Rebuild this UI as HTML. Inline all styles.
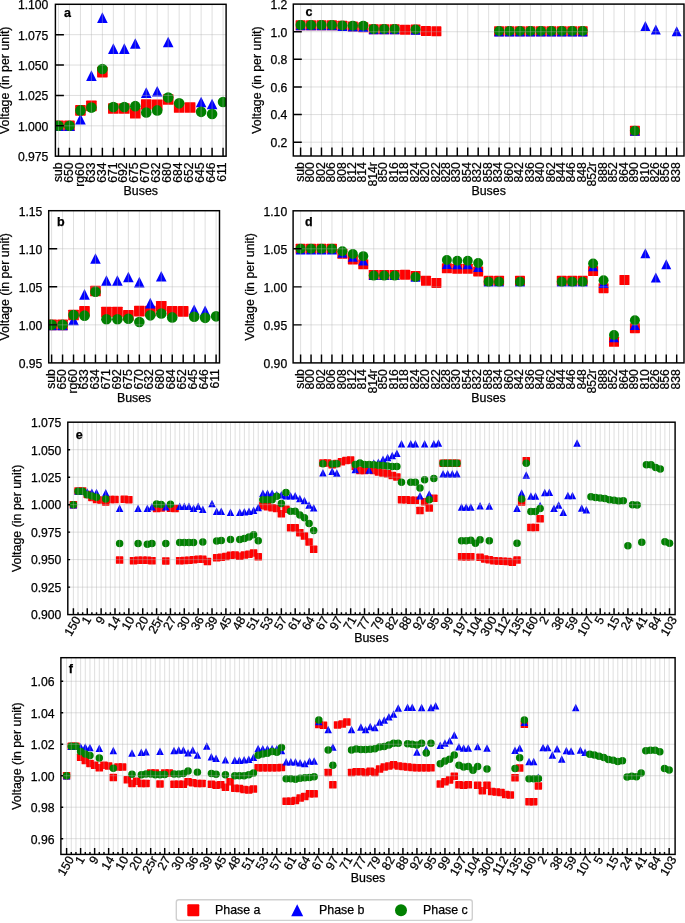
<!DOCTYPE html>
<html><head><meta charset="utf-8"><title>Voltage profiles</title>
<style>html,body{margin:0;padding:0;background:#fff;}svg{display:block;} text{stroke:#000;stroke-width:0.25px;}</style></head>
<body>
<svg width="685" height="923" viewBox="0 0 685 923" font-family="Liberation Sans, Arial, sans-serif" fill="#000">
<rect width="685" height="923" fill="#fff"/>
<clipPath id="clipa"><rect x="55.4" y="4.3" width="170.70" height="151.90"/></clipPath>
<g clip-path="url(#clipa)"><rect x="53.20" y="120.52" width="10.60" height="10.60" rx="0.6" fill="#ff0000"/><rect x="64.17" y="120.52" width="10.60" height="10.60" rx="0.6" fill="#ff0000"/><rect x="75.14" y="105.09" width="10.60" height="10.60" rx="0.6" fill="#ff0000"/><rect x="86.11" y="100.59" width="10.60" height="10.60" rx="0.6" fill="#ff0000"/><rect x="97.08" y="66.81" width="10.60" height="10.60" rx="0.6" fill="#ff0000"/><rect x="108.05" y="103.14" width="10.60" height="10.60" rx="0.6" fill="#ff0000"/><rect x="119.02" y="103.14" width="10.60" height="10.60" rx="0.6" fill="#ff0000"/><rect x="129.99" y="107.88" width="10.60" height="10.60" rx="0.6" fill="#ff0000"/><rect x="140.96" y="99.25" width="10.60" height="10.60" rx="0.6" fill="#ff0000"/><rect x="151.93" y="99.62" width="10.60" height="10.60" rx="0.6" fill="#ff0000"/><rect x="162.90" y="94.15" width="10.60" height="10.60" rx="0.6" fill="#ff0000"/><rect x="173.87" y="102.17" width="10.60" height="10.60" rx="0.6" fill="#ff0000"/><rect x="184.84" y="102.17" width="10.60" height="10.60" rx="0.6" fill="#ff0000"/><path d="M58.50 120.52L63.80 131.12L53.20 131.12Z" fill="#0000ff"/><path d="M69.47 120.52L74.77 131.12L64.17 131.12Z" fill="#0000ff"/><path d="M80.44 113.84L85.74 124.44L75.14 124.44Z" fill="#0000ff"/><path d="M91.41 70.33L96.71 80.93L86.11 80.93Z" fill="#0000ff"/><path d="M102.38 12.37L107.68 22.97L97.08 22.97Z" fill="#0000ff"/><path d="M113.35 43.35L118.65 53.95L108.05 53.95Z" fill="#0000ff"/><path d="M124.32 43.35L129.62 53.95L119.02 53.95Z" fill="#0000ff"/><path d="M135.29 38.25L140.59 48.85L129.99 48.85Z" fill="#0000ff"/><path d="M146.26 87.35L151.56 97.95L140.96 97.95Z" fill="#0000ff"/><path d="M157.23 86.01L162.53 96.61L151.93 96.61Z" fill="#0000ff"/><path d="M168.20 36.67L173.50 47.27L162.90 47.27Z" fill="#0000ff"/><path d="M201.11 96.70L206.41 107.30L195.81 107.30Z" fill="#0000ff"/><path d="M212.08 98.65L217.38 109.25L206.78 109.25Z" fill="#0000ff"/><circle cx="58.50" cy="125.82" r="5.30" fill="#008000"/><circle cx="69.47" cy="125.82" r="5.30" fill="#008000"/><circle cx="80.44" cy="110.39" r="5.30" fill="#008000"/><circle cx="91.41" cy="107.59" r="5.30" fill="#008000"/><circle cx="102.38" cy="69.07" r="5.30" fill="#008000"/><circle cx="113.35" cy="106.98" r="5.30" fill="#008000"/><circle cx="124.32" cy="106.98" r="5.30" fill="#008000"/><circle cx="135.29" cy="106.13" r="5.30" fill="#008000"/><circle cx="146.26" cy="112.57" r="5.30" fill="#008000"/><circle cx="157.23" cy="110.39" r="5.30" fill="#008000"/><circle cx="168.20" cy="97.51" r="5.30" fill="#008000"/><circle cx="179.17" cy="103.34" r="5.30" fill="#008000"/><circle cx="201.11" cy="111.85" r="5.30" fill="#008000"/><circle cx="212.08" cy="114.03" r="5.30" fill="#008000"/><circle cx="223.05" cy="102.00" r="5.30" fill="#008000"/></g>
<path d="M58.50 4.3V156.2M69.47 4.3V156.2M80.44 4.3V156.2M91.41 4.3V156.2M102.38 4.3V156.2M113.35 4.3V156.2M124.32 4.3V156.2M135.29 4.3V156.2M146.26 4.3V156.2M157.23 4.3V156.2M168.20 4.3V156.2M179.17 4.3V156.2M190.14 4.3V156.2M201.11 4.3V156.2M212.08 4.3V156.2M223.05 4.3V156.2M55.4 156.20H226.1M55.4 125.82H226.1M55.4 95.44H226.1M55.4 65.06H226.1M55.4 34.68H226.1M55.4 4.30H226.1" stroke="#b0b0b0" stroke-opacity="0.4" stroke-width="1.0" fill="none"/>
<path d="M55.4 125.82h8.5M55.4 95.44h8.5M55.4 65.06h8.5M55.4 34.68h8.5M58.50 156.2v-8.5M69.47 156.2v-8.5M80.44 156.2v-8.5M91.41 156.2v-8.5M102.38 156.2v-8.5M113.35 156.2v-8.5M124.32 156.2v-8.5M135.29 156.2v-8.5M146.26 156.2v-8.5M157.23 156.2v-8.5M168.20 156.2v-8.5M179.17 156.2v-8.5M190.14 156.2v-8.5M201.11 156.2v-8.5M212.08 156.2v-8.5M223.05 156.2v-8.5" stroke="#000" stroke-width="1.45" fill="none"/>
<rect x="55.4" y="4.3" width="170.70" height="151.90" fill="none" stroke="#000" stroke-width="1.45"/>
<text x="48.40" y="161.03" text-anchor="end" font-size="12.2">0.975</text>
<text x="48.40" y="130.65" text-anchor="end" font-size="12.2">1.000</text>
<text x="48.40" y="100.27" text-anchor="end" font-size="12.2">1.025</text>
<text x="48.40" y="69.89" text-anchor="end" font-size="12.2">1.050</text>
<text x="48.40" y="39.51" text-anchor="end" font-size="12.2">1.075</text>
<text x="48.40" y="9.13" text-anchor="end" font-size="12.2">1.100</text>
<text transform="translate(61.67,162.40) rotate(-90)" text-anchor="end" font-size="12.2">sub</text>
<text transform="translate(72.64,162.40) rotate(-90)" text-anchor="end" font-size="12.2">650</text>
<text transform="translate(83.61,162.40) rotate(-90)" text-anchor="end" font-size="12.2">rg60</text>
<text transform="translate(94.58,162.40) rotate(-90)" text-anchor="end" font-size="12.2">633</text>
<text transform="translate(105.55,162.40) rotate(-90)" text-anchor="end" font-size="12.2">634</text>
<text transform="translate(116.52,162.40) rotate(-90)" text-anchor="end" font-size="12.2">671</text>
<text transform="translate(127.49,162.40) rotate(-90)" text-anchor="end" font-size="12.2">692</text>
<text transform="translate(138.46,162.40) rotate(-90)" text-anchor="end" font-size="12.2">675</text>
<text transform="translate(149.43,162.40) rotate(-90)" text-anchor="end" font-size="12.2">670</text>
<text transform="translate(160.40,162.40) rotate(-90)" text-anchor="end" font-size="12.2">632</text>
<text transform="translate(171.37,162.40) rotate(-90)" text-anchor="end" font-size="12.2">680</text>
<text transform="translate(182.34,162.40) rotate(-90)" text-anchor="end" font-size="12.2">684</text>
<text transform="translate(193.31,162.40) rotate(-90)" text-anchor="end" font-size="12.2">652</text>
<text transform="translate(204.28,162.40) rotate(-90)" text-anchor="end" font-size="12.2">645</text>
<text transform="translate(215.25,162.40) rotate(-90)" text-anchor="end" font-size="12.2">646</text>
<text transform="translate(226.22,162.40) rotate(-90)" text-anchor="end" font-size="12.2">611</text>
<text x="140.75" y="195.20" text-anchor="middle" font-size="12.4">Buses</text>
<text transform="translate(9.00,80.25) rotate(-90)" text-anchor="middle" font-size="12.4">Voltage (in per unit)</text>
<text x="63.9" y="16.5" font-weight="bold" font-size="12.5">a</text>
<clipPath id="clipb"><rect x="48.7" y="210.7" width="170.80" height="152.20"/></clipPath>
<g clip-path="url(#clipb)"><rect x="46.30" y="319.55" width="10.60" height="10.60" rx="0.6" fill="#ff0000"/><rect x="57.27" y="319.55" width="10.60" height="10.60" rx="0.6" fill="#ff0000"/><rect x="68.23" y="309.73" width="10.60" height="10.60" rx="0.6" fill="#ff0000"/><rect x="79.20" y="306.08" width="10.60" height="10.60" rx="0.6" fill="#ff0000"/><rect x="90.17" y="285.76" width="10.60" height="10.60" rx="0.6" fill="#ff0000"/><rect x="101.14" y="306.77" width="10.60" height="10.60" rx="0.6" fill="#ff0000"/><rect x="112.10" y="306.77" width="10.60" height="10.60" rx="0.6" fill="#ff0000"/><rect x="123.07" y="310.04" width="10.60" height="10.60" rx="0.6" fill="#ff0000"/><rect x="134.04" y="305.78" width="10.60" height="10.60" rx="0.6" fill="#ff0000"/><rect x="145.00" y="305.85" width="10.60" height="10.60" rx="0.6" fill="#ff0000"/><rect x="155.97" y="300.91" width="10.60" height="10.60" rx="0.6" fill="#ff0000"/><rect x="166.94" y="306.08" width="10.60" height="10.60" rx="0.6" fill="#ff0000"/><rect x="177.90" y="306.08" width="10.60" height="10.60" rx="0.6" fill="#ff0000"/><path d="M51.60 319.55L56.90 330.15L46.30 330.15Z" fill="#0000ff"/><path d="M62.57 319.55L67.87 330.15L57.27 330.15Z" fill="#0000ff"/><path d="M73.53 314.53L78.83 325.13L68.23 325.13Z" fill="#0000ff"/><path d="M84.50 289.11L89.80 299.71L79.20 299.71Z" fill="#0000ff"/><path d="M95.47 253.27L100.77 263.87L90.17 263.87Z" fill="#0000ff"/><path d="M106.44 275.26L111.73 285.86L101.14 285.86Z" fill="#0000ff"/><path d="M117.40 275.26L122.70 285.86L112.10 285.86Z" fill="#0000ff"/><path d="M128.37 271.76L133.67 282.36L123.07 282.36Z" fill="#0000ff"/><path d="M139.34 276.86L144.64 287.46L134.04 287.46Z" fill="#0000ff"/><path d="M150.30 297.86L155.60 308.46L145.00 308.46Z" fill="#0000ff"/><path d="M161.27 270.92L166.57 281.52L155.97 281.52Z" fill="#0000ff"/><path d="M194.17 304.41L199.47 315.01L188.87 315.01Z" fill="#0000ff"/><path d="M205.14 305.62L210.44 316.22L199.84 316.22Z" fill="#0000ff"/><circle cx="51.60" cy="324.85" r="5.30" fill="#008000"/><circle cx="62.57" cy="324.85" r="5.30" fill="#008000"/><circle cx="73.53" cy="315.11" r="5.30" fill="#008000"/><circle cx="84.50" cy="315.64" r="5.30" fill="#008000"/><circle cx="95.47" cy="291.67" r="5.30" fill="#008000"/><circle cx="106.44" cy="319.22" r="5.30" fill="#008000"/><circle cx="117.40" cy="319.22" r="5.30" fill="#008000"/><circle cx="128.37" cy="318.69" r="5.30" fill="#008000"/><circle cx="139.34" cy="321.96" r="5.30" fill="#008000"/><circle cx="150.30" cy="315.34" r="5.30" fill="#008000"/><circle cx="161.27" cy="313.44" r="5.30" fill="#008000"/><circle cx="172.24" cy="317.39" r="5.30" fill="#008000"/><circle cx="194.17" cy="316.78" r="5.30" fill="#008000"/><circle cx="205.14" cy="317.85" r="5.30" fill="#008000"/><circle cx="216.10" cy="316.33" r="5.30" fill="#008000"/></g>
<path d="M51.60 210.7V362.9M62.57 210.7V362.9M73.53 210.7V362.9M84.50 210.7V362.9M95.47 210.7V362.9M106.44 210.7V362.9M117.40 210.7V362.9M128.37 210.7V362.9M139.34 210.7V362.9M150.30 210.7V362.9M161.27 210.7V362.9M172.24 210.7V362.9M183.20 210.7V362.9M194.17 210.7V362.9M205.14 210.7V362.9M216.10 210.7V362.9M48.7 362.90H219.5M48.7 324.85H219.5M48.7 286.80H219.5M48.7 248.75H219.5M48.7 210.70H219.5" stroke="#b0b0b0" stroke-opacity="0.4" stroke-width="1.0" fill="none"/>
<path d="M48.7 324.85h8.5M48.7 286.80h8.5M48.7 248.75h8.5M51.60 362.9v-8.5M62.57 362.9v-8.5M73.53 362.9v-8.5M84.50 362.9v-8.5M95.47 362.9v-8.5M106.44 362.9v-8.5M117.40 362.9v-8.5M128.37 362.9v-8.5M139.34 362.9v-8.5M150.30 362.9v-8.5M161.27 362.9v-8.5M172.24 362.9v-8.5M183.20 362.9v-8.5M194.17 362.9v-8.5M205.14 362.9v-8.5M216.10 362.9v-8.5" stroke="#000" stroke-width="1.45" fill="none"/>
<rect x="48.7" y="210.7" width="170.80" height="152.20" fill="none" stroke="#000" stroke-width="1.45"/>
<text x="42.40" y="367.73" text-anchor="end" font-size="12.2">0.95</text>
<text x="42.40" y="329.68" text-anchor="end" font-size="12.2">1.00</text>
<text x="42.40" y="291.63" text-anchor="end" font-size="12.2">1.05</text>
<text x="42.40" y="253.58" text-anchor="end" font-size="12.2">1.10</text>
<text x="42.40" y="215.53" text-anchor="end" font-size="12.2">1.15</text>
<text transform="translate(54.77,369.10) rotate(-90)" text-anchor="end" font-size="12.2">sub</text>
<text transform="translate(65.74,369.10) rotate(-90)" text-anchor="end" font-size="12.2">650</text>
<text transform="translate(76.71,369.10) rotate(-90)" text-anchor="end" font-size="12.2">rg60</text>
<text transform="translate(87.67,369.10) rotate(-90)" text-anchor="end" font-size="12.2">633</text>
<text transform="translate(98.64,369.10) rotate(-90)" text-anchor="end" font-size="12.2">634</text>
<text transform="translate(109.61,369.10) rotate(-90)" text-anchor="end" font-size="12.2">671</text>
<text transform="translate(120.57,369.10) rotate(-90)" text-anchor="end" font-size="12.2">692</text>
<text transform="translate(131.54,369.10) rotate(-90)" text-anchor="end" font-size="12.2">675</text>
<text transform="translate(142.51,369.10) rotate(-90)" text-anchor="end" font-size="12.2">670</text>
<text transform="translate(153.47,369.10) rotate(-90)" text-anchor="end" font-size="12.2">632</text>
<text transform="translate(164.44,369.10) rotate(-90)" text-anchor="end" font-size="12.2">680</text>
<text transform="translate(175.41,369.10) rotate(-90)" text-anchor="end" font-size="12.2">684</text>
<text transform="translate(186.38,369.10) rotate(-90)" text-anchor="end" font-size="12.2">652</text>
<text transform="translate(197.34,369.10) rotate(-90)" text-anchor="end" font-size="12.2">645</text>
<text transform="translate(208.31,369.10) rotate(-90)" text-anchor="end" font-size="12.2">646</text>
<text transform="translate(219.28,369.10) rotate(-90)" text-anchor="end" font-size="12.2">611</text>
<text x="134.10" y="402.00" text-anchor="middle" font-size="12.4">Buses</text>
<text transform="translate(8.80,286.80) rotate(-90)" text-anchor="middle" font-size="12.4">Voltage (in per unit)</text>
<text x="57.1" y="225.9" font-weight="bold" font-size="12.5">b</text>
<clipPath id="clipc"><rect x="293.3" y="4.1" width="390.70" height="151.90"/></clipPath>
<g clip-path="url(#clipc)"><rect x="295.60" y="20.23" width="10.00" height="10.00" rx="0.6" fill="#ff0000"/><rect x="306.05" y="20.23" width="10.00" height="10.00" rx="0.6" fill="#ff0000"/><rect x="316.49" y="20.23" width="10.00" height="10.00" rx="0.6" fill="#ff0000"/><rect x="326.94" y="20.23" width="10.00" height="10.00" rx="0.6" fill="#ff0000"/><rect x="337.39" y="20.64" width="10.00" height="10.00" rx="0.6" fill="#ff0000"/><rect x="347.84" y="21.47" width="10.00" height="10.00" rx="0.6" fill="#ff0000"/><rect x="358.28" y="22.30" width="10.00" height="10.00" rx="0.6" fill="#ff0000"/><rect x="368.73" y="24.23" width="10.00" height="10.00" rx="0.6" fill="#ff0000"/><rect x="379.18" y="24.23" width="10.00" height="10.00" rx="0.6" fill="#ff0000"/><rect x="389.62" y="24.23" width="10.00" height="10.00" rx="0.6" fill="#ff0000"/><rect x="400.07" y="24.78" width="10.00" height="10.00" rx="0.6" fill="#ff0000"/><rect x="410.52" y="24.51" width="10.00" height="10.00" rx="0.6" fill="#ff0000"/><rect x="420.96" y="26.03" width="10.00" height="10.00" rx="0.6" fill="#ff0000"/><rect x="431.41" y="26.30" width="10.00" height="10.00" rx="0.6" fill="#ff0000"/><rect x="494.09" y="26.17" width="10.00" height="10.00" rx="0.6" fill="#ff0000"/><rect x="504.54" y="26.17" width="10.00" height="10.00" rx="0.6" fill="#ff0000"/><rect x="514.99" y="26.17" width="10.00" height="10.00" rx="0.6" fill="#ff0000"/><rect x="525.43" y="26.17" width="10.00" height="10.00" rx="0.6" fill="#ff0000"/><rect x="535.88" y="26.17" width="10.00" height="10.00" rx="0.6" fill="#ff0000"/><rect x="546.33" y="26.17" width="10.00" height="10.00" rx="0.6" fill="#ff0000"/><rect x="556.77" y="26.17" width="10.00" height="10.00" rx="0.6" fill="#ff0000"/><rect x="567.22" y="26.17" width="10.00" height="10.00" rx="0.6" fill="#ff0000"/><rect x="577.67" y="26.17" width="10.00" height="10.00" rx="0.6" fill="#ff0000"/><rect x="629.90" y="125.87" width="10.00" height="10.00" rx="0.6" fill="#ff0000"/><path d="M300.60 20.37L305.60 30.37L295.60 30.37Z" fill="#0000ff"/><path d="M311.05 20.37L316.05 30.37L306.05 30.37Z" fill="#0000ff"/><path d="M321.49 20.37L326.49 30.37L316.49 30.37Z" fill="#0000ff"/><path d="M331.94 20.37L336.94 30.37L326.94 30.37Z" fill="#0000ff"/><path d="M342.39 20.92L347.39 30.92L337.39 30.92Z" fill="#0000ff"/><path d="M352.84 21.61L357.84 31.61L347.84 31.61Z" fill="#0000ff"/><path d="M363.28 22.02L368.28 32.02L358.28 32.02Z" fill="#0000ff"/><path d="M373.73 24.37L378.73 34.37L368.73 34.37Z" fill="#0000ff"/><path d="M384.18 24.37L389.18 34.37L379.18 34.37Z" fill="#0000ff"/><path d="M394.62 24.37L399.62 34.37L389.62 34.37Z" fill="#0000ff"/><path d="M415.52 24.65L420.52 34.65L410.52 34.65Z" fill="#0000ff"/><path d="M499.09 26.44L504.09 36.44L494.09 36.44Z" fill="#0000ff"/><path d="M509.54 26.44L514.54 36.44L504.54 36.44Z" fill="#0000ff"/><path d="M519.99 26.44L524.99 36.44L514.99 36.44Z" fill="#0000ff"/><path d="M530.43 26.44L535.43 36.44L525.43 36.44Z" fill="#0000ff"/><path d="M540.88 26.44L545.88 36.44L535.88 36.44Z" fill="#0000ff"/><path d="M551.33 26.44L556.33 36.44L546.33 36.44Z" fill="#0000ff"/><path d="M561.77 26.44L566.77 36.44L556.77 36.44Z" fill="#0000ff"/><path d="M572.22 26.44L577.22 36.44L567.22 36.44Z" fill="#0000ff"/><path d="M582.67 26.44L587.67 36.44L577.67 36.44Z" fill="#0000ff"/><path d="M634.90 125.87L639.90 135.87L629.90 135.87Z" fill="#0000ff"/><path d="M645.35 20.92L650.35 30.92L640.35 30.92Z" fill="#0000ff"/><path d="M655.80 24.51L660.80 34.51L650.80 34.51Z" fill="#0000ff"/><path d="M676.69 26.17L681.69 36.17L671.69 36.17Z" fill="#0000ff"/><circle cx="300.60" cy="25.09" r="5.00" fill="#008000"/><circle cx="311.05" cy="25.09" r="5.00" fill="#008000"/><circle cx="321.49" cy="25.09" r="5.00" fill="#008000"/><circle cx="331.94" cy="25.09" r="5.00" fill="#008000"/><circle cx="342.39" cy="25.50" r="5.00" fill="#008000"/><circle cx="352.84" cy="25.78" r="5.00" fill="#008000"/><circle cx="363.28" cy="25.64" r="5.00" fill="#008000"/><circle cx="373.73" cy="29.09" r="5.00" fill="#008000"/><circle cx="384.18" cy="29.09" r="5.00" fill="#008000"/><circle cx="394.62" cy="29.09" r="5.00" fill="#008000"/><circle cx="415.52" cy="29.51" r="5.00" fill="#008000"/><circle cx="499.09" cy="31.03" r="5.00" fill="#008000"/><circle cx="509.54" cy="31.03" r="5.00" fill="#008000"/><circle cx="519.99" cy="31.03" r="5.00" fill="#008000"/><circle cx="530.43" cy="31.03" r="5.00" fill="#008000"/><circle cx="540.88" cy="31.03" r="5.00" fill="#008000"/><circle cx="551.33" cy="31.03" r="5.00" fill="#008000"/><circle cx="561.77" cy="31.03" r="5.00" fill="#008000"/><circle cx="572.22" cy="31.03" r="5.00" fill="#008000"/><circle cx="582.67" cy="31.03" r="5.00" fill="#008000"/><circle cx="634.90" cy="130.87" r="5.00" fill="#008000"/></g>
<path d="M300.60 4.1V156.0M311.05 4.1V156.0M321.49 4.1V156.0M331.94 4.1V156.0M342.39 4.1V156.0M352.84 4.1V156.0M363.28 4.1V156.0M373.73 4.1V156.0M384.18 4.1V156.0M394.62 4.1V156.0M405.07 4.1V156.0M415.52 4.1V156.0M425.96 4.1V156.0M436.41 4.1V156.0M446.86 4.1V156.0M457.31 4.1V156.0M467.75 4.1V156.0M478.20 4.1V156.0M488.65 4.1V156.0M499.09 4.1V156.0M509.54 4.1V156.0M519.99 4.1V156.0M530.43 4.1V156.0M540.88 4.1V156.0M551.33 4.1V156.0M561.77 4.1V156.0M572.22 4.1V156.0M582.67 4.1V156.0M593.12 4.1V156.0M603.56 4.1V156.0M614.01 4.1V156.0M624.46 4.1V156.0M634.90 4.1V156.0M645.35 4.1V156.0M655.80 4.1V156.0M666.25 4.1V156.0M676.69 4.1V156.0M293.3 142.19H684.0M293.3 114.57H684.0M293.3 86.95H684.0M293.3 59.34H684.0M293.3 31.72H684.0M293.3 4.10H684.0" stroke="#b0b0b0" stroke-opacity="0.4" stroke-width="1.0" fill="none"/>
<path d="M293.3 142.19h8.5M293.3 114.57h8.5M293.3 86.95h8.5M293.3 59.34h8.5M293.3 31.72h8.5M300.60 156.0v-8.5M311.05 156.0v-8.5M321.49 156.0v-8.5M331.94 156.0v-8.5M342.39 156.0v-8.5M352.84 156.0v-8.5M363.28 156.0v-8.5M373.73 156.0v-8.5M384.18 156.0v-8.5M394.62 156.0v-8.5M405.07 156.0v-8.5M415.52 156.0v-8.5M425.96 156.0v-8.5M436.41 156.0v-8.5M446.86 156.0v-8.5M457.31 156.0v-8.5M467.75 156.0v-8.5M478.20 156.0v-8.5M488.65 156.0v-8.5M499.09 156.0v-8.5M509.54 156.0v-8.5M519.99 156.0v-8.5M530.43 156.0v-8.5M540.88 156.0v-8.5M551.33 156.0v-8.5M561.77 156.0v-8.5M572.22 156.0v-8.5M582.67 156.0v-8.5M593.12 156.0v-8.5M603.56 156.0v-8.5M614.01 156.0v-8.5M624.46 156.0v-8.5M634.90 156.0v-8.5M645.35 156.0v-8.5M655.80 156.0v-8.5M666.25 156.0v-8.5M676.69 156.0v-8.5" stroke="#000" stroke-width="1.45" fill="none"/>
<rect x="293.3" y="4.1" width="390.70" height="151.90" fill="none" stroke="#000" stroke-width="1.45"/>
<text x="287.40" y="147.02" text-anchor="end" font-size="12.2">0.2</text>
<text x="287.40" y="119.40" text-anchor="end" font-size="12.2">0.4</text>
<text x="287.40" y="91.79" text-anchor="end" font-size="12.2">0.6</text>
<text x="287.40" y="64.17" text-anchor="end" font-size="12.2">0.8</text>
<text x="287.40" y="36.55" text-anchor="end" font-size="12.2">1.0</text>
<text x="287.40" y="8.93" text-anchor="end" font-size="12.2">1.2</text>
<text transform="translate(303.77,162.20) rotate(-90)" text-anchor="end" font-size="12.2">sub</text>
<text transform="translate(314.22,162.20) rotate(-90)" text-anchor="end" font-size="12.2">800</text>
<text transform="translate(324.67,162.20) rotate(-90)" text-anchor="end" font-size="12.2">802</text>
<text transform="translate(335.11,162.20) rotate(-90)" text-anchor="end" font-size="12.2">806</text>
<text transform="translate(345.56,162.20) rotate(-90)" text-anchor="end" font-size="12.2">808</text>
<text transform="translate(356.01,162.20) rotate(-90)" text-anchor="end" font-size="12.2">812</text>
<text transform="translate(366.45,162.20) rotate(-90)" text-anchor="end" font-size="12.2">814</text>
<text transform="translate(376.90,162.20) rotate(-90)" text-anchor="end" font-size="12.2">814r</text>
<text transform="translate(387.35,162.20) rotate(-90)" text-anchor="end" font-size="12.2">850</text>
<text transform="translate(397.80,162.20) rotate(-90)" text-anchor="end" font-size="12.2">816</text>
<text transform="translate(408.24,162.20) rotate(-90)" text-anchor="end" font-size="12.2">818</text>
<text transform="translate(418.69,162.20) rotate(-90)" text-anchor="end" font-size="12.2">824</text>
<text transform="translate(429.14,162.20) rotate(-90)" text-anchor="end" font-size="12.2">820</text>
<text transform="translate(439.58,162.20) rotate(-90)" text-anchor="end" font-size="12.2">822</text>
<text transform="translate(450.03,162.20) rotate(-90)" text-anchor="end" font-size="12.2">828</text>
<text transform="translate(460.48,162.20) rotate(-90)" text-anchor="end" font-size="12.2">830</text>
<text transform="translate(470.92,162.20) rotate(-90)" text-anchor="end" font-size="12.2">854</text>
<text transform="translate(481.37,162.20) rotate(-90)" text-anchor="end" font-size="12.2">832</text>
<text transform="translate(491.82,162.20) rotate(-90)" text-anchor="end" font-size="12.2">858</text>
<text transform="translate(502.27,162.20) rotate(-90)" text-anchor="end" font-size="12.2">834</text>
<text transform="translate(512.71,162.20) rotate(-90)" text-anchor="end" font-size="12.2">860</text>
<text transform="translate(523.16,162.20) rotate(-90)" text-anchor="end" font-size="12.2">842</text>
<text transform="translate(533.61,162.20) rotate(-90)" text-anchor="end" font-size="12.2">836</text>
<text transform="translate(544.05,162.20) rotate(-90)" text-anchor="end" font-size="12.2">840</text>
<text transform="translate(554.50,162.20) rotate(-90)" text-anchor="end" font-size="12.2">862</text>
<text transform="translate(564.95,162.20) rotate(-90)" text-anchor="end" font-size="12.2">844</text>
<text transform="translate(575.39,162.20) rotate(-90)" text-anchor="end" font-size="12.2">846</text>
<text transform="translate(585.84,162.20) rotate(-90)" text-anchor="end" font-size="12.2">848</text>
<text transform="translate(596.29,162.20) rotate(-90)" text-anchor="end" font-size="12.2">852r</text>
<text transform="translate(606.74,162.20) rotate(-90)" text-anchor="end" font-size="12.2">888</text>
<text transform="translate(617.18,162.20) rotate(-90)" text-anchor="end" font-size="12.2">852</text>
<text transform="translate(627.63,162.20) rotate(-90)" text-anchor="end" font-size="12.2">864</text>
<text transform="translate(638.08,162.20) rotate(-90)" text-anchor="end" font-size="12.2">890</text>
<text transform="translate(648.52,162.20) rotate(-90)" text-anchor="end" font-size="12.2">810</text>
<text transform="translate(658.97,162.20) rotate(-90)" text-anchor="end" font-size="12.2">826</text>
<text transform="translate(669.42,162.20) rotate(-90)" text-anchor="end" font-size="12.2">856</text>
<text transform="translate(679.86,162.20) rotate(-90)" text-anchor="end" font-size="12.2">838</text>
<text x="488.65" y="195.20" text-anchor="middle" font-size="12.4">Buses</text>
<text transform="translate(260.70,80.05) rotate(-90)" text-anchor="middle" font-size="12.4">Voltage (in per unit)</text>
<text x="305.4" y="15.5" font-weight="bold" font-size="12.5">c</text>
<clipPath id="clipd"><rect x="293.1" y="210.8" width="390.90" height="152.10"/></clipPath>
<g clip-path="url(#clipd)"><rect x="295.60" y="243.83" width="10.00" height="10.00" rx="0.6" fill="#ff0000"/><rect x="306.05" y="243.83" width="10.00" height="10.00" rx="0.6" fill="#ff0000"/><rect x="316.49" y="243.83" width="10.00" height="10.00" rx="0.6" fill="#ff0000"/><rect x="326.94" y="243.83" width="10.00" height="10.00" rx="0.6" fill="#ff0000"/><rect x="337.39" y="248.77" width="10.00" height="10.00" rx="0.6" fill="#ff0000"/><rect x="347.84" y="254.40" width="10.00" height="10.00" rx="0.6" fill="#ff0000"/><rect x="358.28" y="259.26" width="10.00" height="10.00" rx="0.6" fill="#ff0000"/><rect x="368.73" y="269.99" width="10.00" height="10.00" rx="0.6" fill="#ff0000"/><rect x="379.18" y="269.99" width="10.00" height="10.00" rx="0.6" fill="#ff0000"/><rect x="389.62" y="269.99" width="10.00" height="10.00" rx="0.6" fill="#ff0000"/><rect x="400.07" y="269.68" width="10.00" height="10.00" rx="0.6" fill="#ff0000"/><rect x="410.52" y="270.97" width="10.00" height="10.00" rx="0.6" fill="#ff0000"/><rect x="420.96" y="275.77" width="10.00" height="10.00" rx="0.6" fill="#ff0000"/><rect x="431.41" y="277.97" width="10.00" height="10.00" rx="0.6" fill="#ff0000"/><rect x="441.86" y="263.37" width="10.00" height="10.00" rx="0.6" fill="#ff0000"/><rect x="452.31" y="263.75" width="10.00" height="10.00" rx="0.6" fill="#ff0000"/><rect x="462.75" y="263.75" width="10.00" height="10.00" rx="0.6" fill="#ff0000"/><rect x="473.20" y="266.41" width="10.00" height="10.00" rx="0.6" fill="#ff0000"/><rect x="483.65" y="275.84" width="10.00" height="10.00" rx="0.6" fill="#ff0000"/><rect x="494.09" y="275.84" width="10.00" height="10.00" rx="0.6" fill="#ff0000"/><rect x="514.99" y="275.84" width="10.00" height="10.00" rx="0.6" fill="#ff0000"/><rect x="556.77" y="275.84" width="10.00" height="10.00" rx="0.6" fill="#ff0000"/><rect x="567.22" y="275.84" width="10.00" height="10.00" rx="0.6" fill="#ff0000"/><rect x="577.67" y="275.84" width="10.00" height="10.00" rx="0.6" fill="#ff0000"/><rect x="588.12" y="266.03" width="10.00" height="10.00" rx="0.6" fill="#ff0000"/><rect x="598.56" y="283.14" width="10.00" height="10.00" rx="0.6" fill="#ff0000"/><rect x="609.01" y="336.76" width="10.00" height="10.00" rx="0.6" fill="#ff0000"/><rect x="619.46" y="275.01" width="10.00" height="10.00" rx="0.6" fill="#ff0000"/><rect x="629.90" y="323.15" width="10.00" height="10.00" rx="0.6" fill="#ff0000"/><path d="M300.60 244.59L305.60 254.59L295.60 254.59Z" fill="#0000ff"/><path d="M311.05 244.59L316.05 254.59L306.05 254.59Z" fill="#0000ff"/><path d="M321.49 244.59L326.49 254.59L316.49 254.59Z" fill="#0000ff"/><path d="M331.94 244.59L336.94 254.59L326.94 254.59Z" fill="#0000ff"/><path d="M342.39 247.70L347.39 257.70L337.39 257.70Z" fill="#0000ff"/><path d="M352.84 251.73L357.84 261.73L347.84 261.73Z" fill="#0000ff"/><path d="M363.28 255.38L368.28 265.38L358.28 265.38Z" fill="#0000ff"/><path d="M373.73 269.99L378.73 279.99L368.73 279.99Z" fill="#0000ff"/><path d="M384.18 269.99L389.18 279.99L379.18 279.99Z" fill="#0000ff"/><path d="M394.62 269.99L399.62 279.99L389.62 279.99Z" fill="#0000ff"/><path d="M415.52 271.81L420.52 281.81L410.52 281.81Z" fill="#0000ff"/><path d="M446.86 259.04L451.86 269.04L441.86 269.04Z" fill="#0000ff"/><path d="M457.31 259.34L462.31 269.34L452.31 269.34Z" fill="#0000ff"/><path d="M467.75 259.34L472.75 269.34L462.75 269.34Z" fill="#0000ff"/><path d="M478.20 262.08L483.20 272.08L473.20 272.08Z" fill="#0000ff"/><path d="M488.65 276.60L493.65 286.60L483.65 286.60Z" fill="#0000ff"/><path d="M499.09 276.60L504.09 286.60L494.09 286.60Z" fill="#0000ff"/><path d="M519.99 276.60L524.99 286.60L514.99 286.60Z" fill="#0000ff"/><path d="M561.77 276.60L566.77 286.60L556.77 286.60Z" fill="#0000ff"/><path d="M572.22 276.60L577.22 286.60L567.22 286.60Z" fill="#0000ff"/><path d="M582.67 276.60L587.67 286.60L577.67 286.60Z" fill="#0000ff"/><path d="M593.12 261.32L598.12 271.32L588.12 271.32Z" fill="#0000ff"/><path d="M603.56 278.05L608.56 288.05L598.56 288.05Z" fill="#0000ff"/><path d="M614.01 332.35L619.01 342.35L609.01 342.35Z" fill="#0000ff"/><path d="M634.90 319.88L639.90 329.88L629.90 329.88Z" fill="#0000ff"/><path d="M645.35 248.24L650.35 258.24L640.35 258.24Z" fill="#0000ff"/><path d="M655.80 272.50L660.80 282.50L650.80 282.50Z" fill="#0000ff"/><path d="M666.25 259.26L671.25 269.26L661.25 269.26Z" fill="#0000ff"/><circle cx="300.60" cy="248.83" r="5.00" fill="#008000"/><circle cx="311.05" cy="248.83" r="5.00" fill="#008000"/><circle cx="321.49" cy="248.83" r="5.00" fill="#008000"/><circle cx="331.94" cy="248.83" r="5.00" fill="#008000"/><circle cx="342.39" cy="251.33" r="5.00" fill="#008000"/><circle cx="352.84" cy="254.07" r="5.00" fill="#008000"/><circle cx="363.28" cy="256.13" r="5.00" fill="#008000"/><circle cx="373.73" cy="275.59" r="5.00" fill="#008000"/><circle cx="384.18" cy="275.59" r="5.00" fill="#008000"/><circle cx="394.62" cy="275.59" r="5.00" fill="#008000"/><circle cx="415.52" cy="276.96" r="5.00" fill="#008000"/><circle cx="446.86" cy="260.08" r="5.00" fill="#008000"/><circle cx="457.31" cy="260.76" r="5.00" fill="#008000"/><circle cx="467.75" cy="260.76" r="5.00" fill="#008000"/><circle cx="478.20" cy="262.97" r="5.00" fill="#008000"/><circle cx="488.65" cy="281.75" r="5.00" fill="#008000"/><circle cx="499.09" cy="281.75" r="5.00" fill="#008000"/><circle cx="519.99" cy="281.75" r="5.00" fill="#008000"/><circle cx="561.77" cy="281.75" r="5.00" fill="#008000"/><circle cx="572.22" cy="281.75" r="5.00" fill="#008000"/><circle cx="582.67" cy="281.75" r="5.00" fill="#008000"/><circle cx="593.12" cy="263.50" r="5.00" fill="#008000"/><circle cx="603.56" cy="280.23" r="5.00" fill="#008000"/><circle cx="614.01" cy="334.99" r="5.00" fill="#008000"/><circle cx="634.90" cy="320.31" r="5.00" fill="#008000"/></g>
<path d="M300.60 210.8V362.9M311.05 210.8V362.9M321.49 210.8V362.9M331.94 210.8V362.9M342.39 210.8V362.9M352.84 210.8V362.9M363.28 210.8V362.9M373.73 210.8V362.9M384.18 210.8V362.9M394.62 210.8V362.9M405.07 210.8V362.9M415.52 210.8V362.9M425.96 210.8V362.9M436.41 210.8V362.9M446.86 210.8V362.9M457.31 210.8V362.9M467.75 210.8V362.9M478.20 210.8V362.9M488.65 210.8V362.9M499.09 210.8V362.9M509.54 210.8V362.9M519.99 210.8V362.9M530.43 210.8V362.9M540.88 210.8V362.9M551.33 210.8V362.9M561.77 210.8V362.9M572.22 210.8V362.9M582.67 210.8V362.9M593.12 210.8V362.9M603.56 210.8V362.9M614.01 210.8V362.9M624.46 210.8V362.9M634.90 210.8V362.9M645.35 210.8V362.9M655.80 210.8V362.9M666.25 210.8V362.9M676.69 210.8V362.9M293.1 362.90H684.0M293.1 324.88H684.0M293.1 286.85H684.0M293.1 248.83H684.0M293.1 210.80H684.0" stroke="#b0b0b0" stroke-opacity="0.4" stroke-width="1.0" fill="none"/>
<path d="M293.1 324.88h8.5M293.1 286.85h8.5M293.1 248.83h8.5M300.60 362.9v-8.5M311.05 362.9v-8.5M321.49 362.9v-8.5M331.94 362.9v-8.5M342.39 362.9v-8.5M352.84 362.9v-8.5M363.28 362.9v-8.5M373.73 362.9v-8.5M384.18 362.9v-8.5M394.62 362.9v-8.5M405.07 362.9v-8.5M415.52 362.9v-8.5M425.96 362.9v-8.5M436.41 362.9v-8.5M446.86 362.9v-8.5M457.31 362.9v-8.5M467.75 362.9v-8.5M478.20 362.9v-8.5M488.65 362.9v-8.5M499.09 362.9v-8.5M509.54 362.9v-8.5M519.99 362.9v-8.5M530.43 362.9v-8.5M540.88 362.9v-8.5M551.33 362.9v-8.5M561.77 362.9v-8.5M572.22 362.9v-8.5M582.67 362.9v-8.5M593.12 362.9v-8.5M603.56 362.9v-8.5M614.01 362.9v-8.5M624.46 362.9v-8.5M634.90 362.9v-8.5M645.35 362.9v-8.5M655.80 362.9v-8.5M666.25 362.9v-8.5M676.69 362.9v-8.5" stroke="#000" stroke-width="1.45" fill="none"/>
<rect x="293.1" y="210.8" width="390.90" height="152.10" fill="none" stroke="#000" stroke-width="1.45"/>
<text x="287.20" y="367.73" text-anchor="end" font-size="12.2">0.90</text>
<text x="287.20" y="329.71" text-anchor="end" font-size="12.2">0.95</text>
<text x="287.20" y="291.68" text-anchor="end" font-size="12.2">1.00</text>
<text x="287.20" y="253.66" text-anchor="end" font-size="12.2">1.05</text>
<text x="287.20" y="215.63" text-anchor="end" font-size="12.2">1.10</text>
<text transform="translate(303.77,369.10) rotate(-90)" text-anchor="end" font-size="12.2">sub</text>
<text transform="translate(314.22,369.10) rotate(-90)" text-anchor="end" font-size="12.2">800</text>
<text transform="translate(324.67,369.10) rotate(-90)" text-anchor="end" font-size="12.2">802</text>
<text transform="translate(335.11,369.10) rotate(-90)" text-anchor="end" font-size="12.2">806</text>
<text transform="translate(345.56,369.10) rotate(-90)" text-anchor="end" font-size="12.2">808</text>
<text transform="translate(356.01,369.10) rotate(-90)" text-anchor="end" font-size="12.2">812</text>
<text transform="translate(366.45,369.10) rotate(-90)" text-anchor="end" font-size="12.2">814</text>
<text transform="translate(376.90,369.10) rotate(-90)" text-anchor="end" font-size="12.2">814r</text>
<text transform="translate(387.35,369.10) rotate(-90)" text-anchor="end" font-size="12.2">850</text>
<text transform="translate(397.80,369.10) rotate(-90)" text-anchor="end" font-size="12.2">816</text>
<text transform="translate(408.24,369.10) rotate(-90)" text-anchor="end" font-size="12.2">818</text>
<text transform="translate(418.69,369.10) rotate(-90)" text-anchor="end" font-size="12.2">824</text>
<text transform="translate(429.14,369.10) rotate(-90)" text-anchor="end" font-size="12.2">820</text>
<text transform="translate(439.58,369.10) rotate(-90)" text-anchor="end" font-size="12.2">822</text>
<text transform="translate(450.03,369.10) rotate(-90)" text-anchor="end" font-size="12.2">828</text>
<text transform="translate(460.48,369.10) rotate(-90)" text-anchor="end" font-size="12.2">830</text>
<text transform="translate(470.92,369.10) rotate(-90)" text-anchor="end" font-size="12.2">854</text>
<text transform="translate(481.37,369.10) rotate(-90)" text-anchor="end" font-size="12.2">832</text>
<text transform="translate(491.82,369.10) rotate(-90)" text-anchor="end" font-size="12.2">858</text>
<text transform="translate(502.27,369.10) rotate(-90)" text-anchor="end" font-size="12.2">834</text>
<text transform="translate(512.71,369.10) rotate(-90)" text-anchor="end" font-size="12.2">860</text>
<text transform="translate(523.16,369.10) rotate(-90)" text-anchor="end" font-size="12.2">842</text>
<text transform="translate(533.61,369.10) rotate(-90)" text-anchor="end" font-size="12.2">836</text>
<text transform="translate(544.05,369.10) rotate(-90)" text-anchor="end" font-size="12.2">840</text>
<text transform="translate(554.50,369.10) rotate(-90)" text-anchor="end" font-size="12.2">862</text>
<text transform="translate(564.95,369.10) rotate(-90)" text-anchor="end" font-size="12.2">844</text>
<text transform="translate(575.39,369.10) rotate(-90)" text-anchor="end" font-size="12.2">846</text>
<text transform="translate(585.84,369.10) rotate(-90)" text-anchor="end" font-size="12.2">848</text>
<text transform="translate(596.29,369.10) rotate(-90)" text-anchor="end" font-size="12.2">852r</text>
<text transform="translate(606.74,369.10) rotate(-90)" text-anchor="end" font-size="12.2">888</text>
<text transform="translate(617.18,369.10) rotate(-90)" text-anchor="end" font-size="12.2">852</text>
<text transform="translate(627.63,369.10) rotate(-90)" text-anchor="end" font-size="12.2">864</text>
<text transform="translate(638.08,369.10) rotate(-90)" text-anchor="end" font-size="12.2">890</text>
<text transform="translate(648.52,369.10) rotate(-90)" text-anchor="end" font-size="12.2">810</text>
<text transform="translate(658.97,369.10) rotate(-90)" text-anchor="end" font-size="12.2">826</text>
<text transform="translate(669.42,369.10) rotate(-90)" text-anchor="end" font-size="12.2">856</text>
<text transform="translate(679.86,369.10) rotate(-90)" text-anchor="end" font-size="12.2">838</text>
<text x="488.55" y="402.00" text-anchor="middle" font-size="12.4">Buses</text>
<text transform="translate(253.80,286.85) rotate(-90)" text-anchor="middle" font-size="12.4">Voltage (in per unit)</text>
<text x="305.1" y="226.0" font-weight="bold" font-size="12.5">d</text>
<clipPath id="clipe"><rect x="67.8" y="422.2" width="607.30" height="192.40"/></clipPath>
<g clip-path="url(#clipe)"><rect x="69.65" y="500.91" width="7.50" height="7.50" rx="0.6" fill="#ff0000"/><rect x="74.27" y="487.16" width="7.50" height="7.50" rx="0.6" fill="#ff0000"/><rect x="78.89" y="487.16" width="7.50" height="7.50" rx="0.6" fill="#ff0000"/><rect x="83.51" y="490.68" width="7.50" height="7.50" rx="0.6" fill="#ff0000"/><rect x="88.13" y="493.65" width="7.50" height="7.50" rx="0.6" fill="#ff0000"/><rect x="92.76" y="495.85" width="7.50" height="7.50" rx="0.6" fill="#ff0000"/><rect x="97.38" y="496.29" width="7.50" height="7.50" rx="0.6" fill="#ff0000"/><rect x="102.00" y="498.16" width="7.50" height="7.50" rx="0.6" fill="#ff0000"/><rect x="106.62" y="495.85" width="7.50" height="7.50" rx="0.6" fill="#ff0000"/><rect x="111.24" y="495.85" width="7.50" height="7.50" rx="0.6" fill="#ff0000"/><rect x="115.86" y="556.32" width="7.50" height="7.50" rx="0.6" fill="#ff0000"/><rect x="120.48" y="495.52" width="7.50" height="7.50" rx="0.6" fill="#ff0000"/><rect x="125.10" y="495.96" width="7.50" height="7.50" rx="0.6" fill="#ff0000"/><rect x="129.72" y="556.98" width="7.50" height="7.50" rx="0.6" fill="#ff0000"/><rect x="134.34" y="556.43" width="7.50" height="7.50" rx="0.6" fill="#ff0000"/><rect x="138.97" y="556.43" width="7.50" height="7.50" rx="0.6" fill="#ff0000"/><rect x="143.59" y="556.43" width="7.50" height="7.50" rx="0.6" fill="#ff0000"/><rect x="148.21" y="556.98" width="7.50" height="7.50" rx="0.6" fill="#ff0000"/><rect x="152.83" y="504.87" width="7.50" height="7.50" rx="0.6" fill="#ff0000"/><rect x="157.45" y="504.32" width="7.50" height="7.50" rx="0.6" fill="#ff0000"/><rect x="162.07" y="557.20" width="7.50" height="7.50" rx="0.6" fill="#ff0000"/><rect x="166.69" y="504.54" width="7.50" height="7.50" rx="0.6" fill="#ff0000"/><rect x="171.31" y="504.87" width="7.50" height="7.50" rx="0.6" fill="#ff0000"/><rect x="175.93" y="556.98" width="7.50" height="7.50" rx="0.6" fill="#ff0000"/><rect x="180.55" y="556.76" width="7.50" height="7.50" rx="0.6" fill="#ff0000"/><rect x="185.18" y="556.43" width="7.50" height="7.50" rx="0.6" fill="#ff0000"/><rect x="189.80" y="555.99" width="7.50" height="7.50" rx="0.6" fill="#ff0000"/><rect x="194.42" y="555.44" width="7.50" height="7.50" rx="0.6" fill="#ff0000"/><rect x="199.04" y="555.44" width="7.50" height="7.50" rx="0.6" fill="#ff0000"/><rect x="203.66" y="557.75" width="7.50" height="7.50" rx="0.6" fill="#ff0000"/><rect x="212.90" y="554.12" width="7.50" height="7.50" rx="0.6" fill="#ff0000"/><rect x="217.52" y="553.46" width="7.50" height="7.50" rx="0.6" fill="#ff0000"/><rect x="222.14" y="552.80" width="7.50" height="7.50" rx="0.6" fill="#ff0000"/><rect x="226.76" y="551.59" width="7.50" height="7.50" rx="0.6" fill="#ff0000"/><rect x="231.39" y="551.37" width="7.50" height="7.50" rx="0.6" fill="#ff0000"/><rect x="236.01" y="552.58" width="7.50" height="7.50" rx="0.6" fill="#ff0000"/><rect x="240.63" y="551.37" width="7.50" height="7.50" rx="0.6" fill="#ff0000"/><rect x="245.25" y="550.38" width="7.50" height="7.50" rx="0.6" fill="#ff0000"/><rect x="249.87" y="549.17" width="7.50" height="7.50" rx="0.6" fill="#ff0000"/><rect x="254.49" y="553.02" width="7.50" height="7.50" rx="0.6" fill="#ff0000"/><rect x="259.11" y="502.01" width="7.50" height="7.50" rx="0.6" fill="#ff0000"/><rect x="263.73" y="503.11" width="7.50" height="7.50" rx="0.6" fill="#ff0000"/><rect x="268.35" y="503.99" width="7.50" height="7.50" rx="0.6" fill="#ff0000"/><rect x="272.97" y="504.87" width="7.50" height="7.50" rx="0.6" fill="#ff0000"/><rect x="277.60" y="510.03" width="7.50" height="7.50" rx="0.6" fill="#ff0000"/><rect x="282.22" y="505.52" width="7.50" height="7.50" rx="0.6" fill="#ff0000"/><rect x="286.84" y="524.11" width="7.50" height="7.50" rx="0.6" fill="#ff0000"/><rect x="291.46" y="524.11" width="7.50" height="7.50" rx="0.6" fill="#ff0000"/><rect x="296.08" y="528.94" width="7.50" height="7.50" rx="0.6" fill="#ff0000"/><rect x="300.70" y="532.35" width="7.50" height="7.50" rx="0.6" fill="#ff0000"/><rect x="305.32" y="538.18" width="7.50" height="7.50" rx="0.6" fill="#ff0000"/><rect x="309.94" y="545.54" width="7.50" height="7.50" rx="0.6" fill="#ff0000"/><rect x="319.18" y="459.35" width="7.50" height="7.50" rx="0.6" fill="#ff0000"/><rect x="323.81" y="459.35" width="7.50" height="7.50" rx="0.6" fill="#ff0000"/><rect x="328.43" y="461.00" width="7.50" height="7.50" rx="0.6" fill="#ff0000"/><rect x="333.05" y="459.79" width="7.50" height="7.50" rx="0.6" fill="#ff0000"/><rect x="337.67" y="458.03" width="7.50" height="7.50" rx="0.6" fill="#ff0000"/><rect x="342.29" y="456.71" width="7.50" height="7.50" rx="0.6" fill="#ff0000"/><rect x="346.91" y="456.16" width="7.50" height="7.50" rx="0.6" fill="#ff0000"/><rect x="351.53" y="462.76" width="7.50" height="7.50" rx="0.6" fill="#ff0000"/><rect x="356.15" y="466.82" width="7.50" height="7.50" rx="0.6" fill="#ff0000"/><rect x="360.77" y="466.82" width="7.50" height="7.50" rx="0.6" fill="#ff0000"/><rect x="365.39" y="465.95" width="7.50" height="7.50" rx="0.6" fill="#ff0000"/><rect x="370.01" y="466.82" width="7.50" height="7.50" rx="0.6" fill="#ff0000"/><rect x="374.64" y="468.14" width="7.50" height="7.50" rx="0.6" fill="#ff0000"/><rect x="379.26" y="469.35" width="7.50" height="7.50" rx="0.6" fill="#ff0000"/><rect x="383.88" y="470.12" width="7.50" height="7.50" rx="0.6" fill="#ff0000"/><rect x="388.50" y="471.77" width="7.50" height="7.50" rx="0.6" fill="#ff0000"/><rect x="393.12" y="473.20" width="7.50" height="7.50" rx="0.6" fill="#ff0000"/><rect x="397.74" y="495.96" width="7.50" height="7.50" rx="0.6" fill="#ff0000"/><rect x="402.36" y="495.96" width="7.50" height="7.50" rx="0.6" fill="#ff0000"/><rect x="406.98" y="496.51" width="7.50" height="7.50" rx="0.6" fill="#ff0000"/><rect x="411.60" y="496.51" width="7.50" height="7.50" rx="0.6" fill="#ff0000"/><rect x="416.23" y="506.73" width="7.50" height="7.50" rx="0.6" fill="#ff0000"/><rect x="420.85" y="497.94" width="7.50" height="7.50" rx="0.6" fill="#ff0000"/><rect x="425.47" y="504.32" width="7.50" height="7.50" rx="0.6" fill="#ff0000"/><rect x="430.09" y="494.53" width="7.50" height="7.50" rx="0.6" fill="#ff0000"/><rect x="439.33" y="459.46" width="7.50" height="7.50" rx="0.6" fill="#ff0000"/><rect x="443.95" y="459.46" width="7.50" height="7.50" rx="0.6" fill="#ff0000"/><rect x="448.57" y="459.46" width="7.50" height="7.50" rx="0.6" fill="#ff0000"/><rect x="453.19" y="459.46" width="7.50" height="7.50" rx="0.6" fill="#ff0000"/><rect x="457.81" y="553.02" width="7.50" height="7.50" rx="0.6" fill="#ff0000"/><rect x="462.44" y="553.02" width="7.50" height="7.50" rx="0.6" fill="#ff0000"/><rect x="467.06" y="553.02" width="7.50" height="7.50" rx="0.6" fill="#ff0000"/><rect x="476.30" y="553.57" width="7.50" height="7.50" rx="0.6" fill="#ff0000"/><rect x="480.92" y="555.22" width="7.50" height="7.50" rx="0.6" fill="#ff0000"/><rect x="485.54" y="555.99" width="7.50" height="7.50" rx="0.6" fill="#ff0000"/><rect x="490.16" y="556.98" width="7.50" height="7.50" rx="0.6" fill="#ff0000"/><rect x="494.78" y="557.20" width="7.50" height="7.50" rx="0.6" fill="#ff0000"/><rect x="499.40" y="557.42" width="7.50" height="7.50" rx="0.6" fill="#ff0000"/><rect x="504.02" y="557.86" width="7.50" height="7.50" rx="0.6" fill="#ff0000"/><rect x="508.65" y="558.41" width="7.50" height="7.50" rx="0.6" fill="#ff0000"/><rect x="513.27" y="556.32" width="7.50" height="7.50" rx="0.6" fill="#ff0000"/><rect x="517.89" y="498.16" width="7.50" height="7.50" rx="0.6" fill="#ff0000"/><rect x="522.51" y="456.93" width="7.50" height="7.50" rx="0.6" fill="#ff0000"/><rect x="527.13" y="523.78" width="7.50" height="7.50" rx="0.6" fill="#ff0000"/><rect x="531.75" y="523.78" width="7.50" height="7.50" rx="0.6" fill="#ff0000"/><rect x="536.37" y="515.09" width="7.50" height="7.50" rx="0.6" fill="#ff0000"/><path d="M73.40 500.91L77.15 508.41L69.65 508.41Z" fill="#0000ff"/><path d="M78.02 487.27L81.77 494.77L74.27 494.77Z" fill="#0000ff"/><path d="M82.64 487.27L86.39 494.77L78.89 494.77Z" fill="#0000ff"/><path d="M87.26 488.15L91.01 495.65L83.51 495.65Z" fill="#0000ff"/><path d="M91.88 488.48L95.63 495.98L88.13 495.98Z" fill="#0000ff"/><path d="M96.51 488.81L100.26 496.31L92.76 496.31Z" fill="#0000ff"/><path d="M105.75 489.03L109.50 496.53L102.00 496.53Z" fill="#0000ff"/><path d="M119.61 504.54L123.36 512.04L115.86 512.04Z" fill="#0000ff"/><path d="M138.09 504.54L141.84 512.04L134.34 512.04Z" fill="#0000ff"/><path d="M147.34 504.54L151.09 512.04L143.59 512.04Z" fill="#0000ff"/><path d="M151.96 503.11L155.71 510.61L148.21 510.61Z" fill="#0000ff"/><path d="M165.82 503.11L169.57 510.61L162.07 510.61Z" fill="#0000ff"/><path d="M179.68 502.56L183.43 510.06L175.93 510.06Z" fill="#0000ff"/><path d="M184.30 502.56L188.05 510.06L180.55 510.06Z" fill="#0000ff"/><path d="M188.93 502.56L192.68 510.06L185.18 510.06Z" fill="#0000ff"/><path d="M193.55 504.54L197.30 512.04L189.80 512.04Z" fill="#0000ff"/><path d="M198.17 502.56L201.92 510.06L194.42 510.06Z" fill="#0000ff"/><path d="M202.79 505.52L206.54 513.02L199.04 513.02Z" fill="#0000ff"/><path d="M212.03 499.70L215.78 507.20L208.28 507.20Z" fill="#0000ff"/><path d="M216.65 507.50L220.40 515.00L212.90 515.00Z" fill="#0000ff"/><path d="M221.27 507.50L225.02 515.00L217.52 515.00Z" fill="#0000ff"/><path d="M230.51 508.49L234.26 515.99L226.76 515.99Z" fill="#0000ff"/><path d="M239.76 508.49L243.51 515.99L236.01 515.99Z" fill="#0000ff"/><path d="M244.38 507.94L248.13 515.44L240.63 515.44Z" fill="#0000ff"/><path d="M249.00 507.50L252.75 515.00L245.25 515.00Z" fill="#0000ff"/><path d="M253.62 506.51L257.37 514.01L249.87 514.01Z" fill="#0000ff"/><path d="M258.24 503.66L261.99 511.16L254.49 511.16Z" fill="#0000ff"/><path d="M262.86 489.58L266.61 497.08L259.11 497.08Z" fill="#0000ff"/><path d="M267.48 489.58L271.23 497.08L263.73 497.08Z" fill="#0000ff"/><path d="M272.10 489.58L275.85 497.08L268.35 497.08Z" fill="#0000ff"/><path d="M276.72 490.79L280.47 498.29L272.97 498.29Z" fill="#0000ff"/><path d="M281.35 491.12L285.10 498.62L277.60 498.62Z" fill="#0000ff"/><path d="M285.97 491.89L289.72 499.39L282.22 499.39Z" fill="#0000ff"/><path d="M290.59 491.89L294.34 499.39L286.84 499.39Z" fill="#0000ff"/><path d="M295.21 491.89L298.96 499.39L291.46 499.39Z" fill="#0000ff"/><path d="M299.83 494.75L303.58 502.25L296.08 502.25Z" fill="#0000ff"/><path d="M304.45 496.73L308.20 504.23L300.70 504.23Z" fill="#0000ff"/><path d="M309.07 501.13L312.82 508.63L305.32 508.63Z" fill="#0000ff"/><path d="M313.69 504.10L317.44 511.60L309.94 511.60Z" fill="#0000ff"/><path d="M322.93 468.91L326.68 476.41L319.18 476.41Z" fill="#0000ff"/><path d="M332.18 467.48L335.93 474.98L328.43 474.98Z" fill="#0000ff"/><path d="M336.80 469.13L340.55 476.63L333.05 476.63Z" fill="#0000ff"/><path d="M355.28 465.73L359.03 473.23L351.53 473.23Z" fill="#0000ff"/><path d="M369.14 466.28L372.89 473.78L365.39 473.78Z" fill="#0000ff"/><path d="M373.76 459.13L377.51 466.63L370.01 466.63Z" fill="#0000ff"/><path d="M378.39 458.47L382.14 465.97L374.64 465.97Z" fill="#0000ff"/><path d="M383.01 455.61L386.76 463.11L379.26 463.11Z" fill="#0000ff"/><path d="M387.63 453.85L391.38 461.35L383.88 461.35Z" fill="#0000ff"/><path d="M392.25 451.76L396.00 459.26L388.50 459.26Z" fill="#0000ff"/><path d="M396.87 449.45L400.62 456.95L393.12 456.95Z" fill="#0000ff"/><path d="M401.49 439.89L405.24 447.39L397.74 447.39Z" fill="#0000ff"/><path d="M410.73 439.89L414.48 447.39L406.98 447.39Z" fill="#0000ff"/><path d="M415.35 439.89L419.10 447.39L411.60 447.39Z" fill="#0000ff"/><path d="M419.98 492.11L423.73 499.61L416.23 499.61Z" fill="#0000ff"/><path d="M424.60 439.89L428.35 447.39L420.85 447.39Z" fill="#0000ff"/><path d="M429.22 490.24L432.97 497.74L425.47 497.74Z" fill="#0000ff"/><path d="M433.84 439.89L437.59 447.39L430.09 447.39Z" fill="#0000ff"/><path d="M438.46 439.23L442.21 446.73L434.71 446.73Z" fill="#0000ff"/><path d="M443.08 469.90L446.83 477.40L439.33 477.40Z" fill="#0000ff"/><path d="M447.70 469.90L451.45 477.40L443.95 477.40Z" fill="#0000ff"/><path d="M452.32 469.90L456.07 477.40L448.57 477.40Z" fill="#0000ff"/><path d="M456.94 469.90L460.69 477.40L453.19 477.40Z" fill="#0000ff"/><path d="M461.56 503.33L465.31 510.83L457.81 510.83Z" fill="#0000ff"/><path d="M466.19 503.33L469.94 510.83L462.44 510.83Z" fill="#0000ff"/><path d="M470.81 503.33L474.56 510.83L467.06 510.83Z" fill="#0000ff"/><path d="M480.05 502.12L483.80 509.62L476.30 509.62Z" fill="#0000ff"/><path d="M489.29 502.23L493.04 509.73L485.54 509.73Z" fill="#0000ff"/><path d="M517.02 504.43L520.77 511.93L513.27 511.93Z" fill="#0000ff"/><path d="M521.64 489.25L525.39 496.75L517.89 496.75Z" fill="#0000ff"/><path d="M526.26 471.33L530.01 478.83L522.51 478.83Z" fill="#0000ff"/><path d="M530.88 492.22L534.63 499.72L527.13 499.72Z" fill="#0000ff"/><path d="M535.50 492.22L539.25 499.72L531.75 499.72Z" fill="#0000ff"/><path d="M540.12 501.79L543.87 509.29L536.37 509.29Z" fill="#0000ff"/><path d="M544.74 488.81L548.49 496.31L540.99 496.31Z" fill="#0000ff"/><path d="M549.36 488.59L553.11 496.09L545.61 496.09Z" fill="#0000ff"/><path d="M553.98 504.54L557.73 512.04L550.23 512.04Z" fill="#0000ff"/><path d="M558.61 501.35L562.36 508.85L554.86 508.85Z" fill="#0000ff"/><path d="M563.23 508.49L566.98 515.99L559.48 515.99Z" fill="#0000ff"/><path d="M567.85 491.78L571.60 499.28L564.10 499.28Z" fill="#0000ff"/><path d="M572.47 491.78L576.22 499.28L568.72 499.28Z" fill="#0000ff"/><path d="M577.09 439.34L580.84 446.84L573.34 446.84Z" fill="#0000ff"/><path d="M581.71 504.32L585.46 511.82L577.96 511.82Z" fill="#0000ff"/><path d="M586.33 506.07L590.08 513.57L582.58 513.57Z" fill="#0000ff"/><circle cx="73.40" cy="504.66" r="3.75" fill="#008000"/><circle cx="78.02" cy="491.13" r="3.75" fill="#008000"/><circle cx="82.64" cy="491.13" r="3.75" fill="#008000"/><circle cx="87.26" cy="494.65" r="3.75" fill="#008000"/><circle cx="91.88" cy="495.97" r="3.75" fill="#008000"/><circle cx="96.51" cy="497.18" r="3.75" fill="#008000"/><circle cx="105.75" cy="499.05" r="3.75" fill="#008000"/><circle cx="119.61" cy="543.47" r="3.75" fill="#008000"/><circle cx="138.09" cy="543.58" r="3.75" fill="#008000"/><circle cx="147.34" cy="544.13" r="3.75" fill="#008000"/><circle cx="151.96" cy="543.58" r="3.75" fill="#008000"/><circle cx="156.58" cy="504.11" r="3.75" fill="#008000"/><circle cx="161.20" cy="504.44" r="3.75" fill="#008000"/><circle cx="165.82" cy="543.58" r="3.75" fill="#008000"/><circle cx="170.44" cy="504.22" r="3.75" fill="#008000"/><circle cx="179.68" cy="542.59" r="3.75" fill="#008000"/><circle cx="184.30" cy="542.59" r="3.75" fill="#008000"/><circle cx="188.93" cy="542.59" r="3.75" fill="#008000"/><circle cx="193.55" cy="542.59" r="3.75" fill="#008000"/><circle cx="202.79" cy="541.93" r="3.75" fill="#008000"/><circle cx="216.65" cy="541.05" r="3.75" fill="#008000"/><circle cx="221.27" cy="540.50" r="3.75" fill="#008000"/><circle cx="230.51" cy="539.51" r="3.75" fill="#008000"/><circle cx="239.76" cy="539.51" r="3.75" fill="#008000"/><circle cx="244.38" cy="538.52" r="3.75" fill="#008000"/><circle cx="249.00" cy="537.09" r="3.75" fill="#008000"/><circle cx="253.62" cy="534.67" r="3.75" fill="#008000"/><circle cx="258.24" cy="540.72" r="3.75" fill="#008000"/><circle cx="262.86" cy="499.71" r="3.75" fill="#008000"/><circle cx="267.48" cy="499.71" r="3.75" fill="#008000"/><circle cx="272.10" cy="499.82" r="3.75" fill="#008000"/><circle cx="276.72" cy="496.19" r="3.75" fill="#008000"/><circle cx="281.35" cy="503.56" r="3.75" fill="#008000"/><circle cx="285.97" cy="492.56" r="3.75" fill="#008000"/><circle cx="290.59" cy="511.25" r="3.75" fill="#008000"/><circle cx="295.21" cy="511.25" r="3.75" fill="#008000"/><circle cx="299.83" cy="515.10" r="3.75" fill="#008000"/><circle cx="304.45" cy="517.74" r="3.75" fill="#008000"/><circle cx="309.07" cy="523.46" r="3.75" fill="#008000"/><circle cx="313.69" cy="530.49" r="3.75" fill="#008000"/><circle cx="322.93" cy="463.87" r="3.75" fill="#008000"/><circle cx="332.18" cy="464.09" r="3.75" fill="#008000"/><circle cx="336.80" cy="463.65" r="3.75" fill="#008000"/><circle cx="355.28" cy="464.42" r="3.75" fill="#008000"/><circle cx="359.90" cy="463.10" r="3.75" fill="#008000"/><circle cx="364.52" cy="464.42" r="3.75" fill="#008000"/><circle cx="369.14" cy="464.42" r="3.75" fill="#008000"/><circle cx="373.76" cy="464.86" r="3.75" fill="#008000"/><circle cx="378.39" cy="465.30" r="3.75" fill="#008000"/><circle cx="383.01" cy="465.52" r="3.75" fill="#008000"/><circle cx="387.63" cy="466.07" r="3.75" fill="#008000"/><circle cx="392.25" cy="466.40" r="3.75" fill="#008000"/><circle cx="396.87" cy="466.62" r="3.75" fill="#008000"/><circle cx="401.49" cy="482.23" r="3.75" fill="#008000"/><circle cx="410.73" cy="482.23" r="3.75" fill="#008000"/><circle cx="415.35" cy="482.23" r="3.75" fill="#008000"/><circle cx="419.98" cy="488.06" r="3.75" fill="#008000"/><circle cx="424.60" cy="479.81" r="3.75" fill="#008000"/><circle cx="429.22" cy="499.82" r="3.75" fill="#008000"/><circle cx="433.84" cy="478.38" r="3.75" fill="#008000"/><circle cx="443.08" cy="463.21" r="3.75" fill="#008000"/><circle cx="447.70" cy="463.21" r="3.75" fill="#008000"/><circle cx="452.32" cy="463.21" r="3.75" fill="#008000"/><circle cx="456.94" cy="463.21" r="3.75" fill="#008000"/><circle cx="461.56" cy="540.72" r="3.75" fill="#008000"/><circle cx="466.19" cy="540.72" r="3.75" fill="#008000"/><circle cx="470.81" cy="540.28" r="3.75" fill="#008000"/><circle cx="475.43" cy="543.14" r="3.75" fill="#008000"/><circle cx="480.05" cy="539.73" r="3.75" fill="#008000"/><circle cx="489.29" cy="540.72" r="3.75" fill="#008000"/><circle cx="517.02" cy="543.36" r="3.75" fill="#008000"/><circle cx="521.64" cy="498.94" r="3.75" fill="#008000"/><circle cx="526.26" cy="463.21" r="3.75" fill="#008000"/><circle cx="530.88" cy="511.47" r="3.75" fill="#008000"/><circle cx="535.50" cy="511.47" r="3.75" fill="#008000"/><circle cx="540.12" cy="508.51" r="3.75" fill="#008000"/><circle cx="590.95" cy="496.85" r="3.75" fill="#008000"/><circle cx="595.57" cy="497.40" r="3.75" fill="#008000"/><circle cx="600.19" cy="497.95" r="3.75" fill="#008000"/><circle cx="604.82" cy="498.61" r="3.75" fill="#008000"/><circle cx="609.44" cy="499.82" r="3.75" fill="#008000"/><circle cx="614.06" cy="500.37" r="3.75" fill="#008000"/><circle cx="618.68" cy="500.92" r="3.75" fill="#008000"/><circle cx="623.30" cy="500.70" r="3.75" fill="#008000"/><circle cx="627.92" cy="545.67" r="3.75" fill="#008000"/><circle cx="632.54" cy="504.77" r="3.75" fill="#008000"/><circle cx="637.16" cy="505.10" r="3.75" fill="#008000"/><circle cx="641.78" cy="542.26" r="3.75" fill="#008000"/><circle cx="646.40" cy="464.75" r="3.75" fill="#008000"/><circle cx="651.02" cy="464.75" r="3.75" fill="#008000"/><circle cx="655.65" cy="467.39" r="3.75" fill="#008000"/><circle cx="660.27" cy="468.93" r="3.75" fill="#008000"/><circle cx="664.89" cy="541.82" r="3.75" fill="#008000"/><circle cx="669.51" cy="543.14" r="3.75" fill="#008000"/></g>
<path d="M73.40 422.2V614.6M78.02 422.2V614.6M82.64 422.2V614.6M87.26 422.2V614.6M91.88 422.2V614.6M96.51 422.2V614.6M101.13 422.2V614.6M105.75 422.2V614.6M110.37 422.2V614.6M114.99 422.2V614.6M119.61 422.2V614.6M124.23 422.2V614.6M128.85 422.2V614.6M133.47 422.2V614.6M138.09 422.2V614.6M142.72 422.2V614.6M147.34 422.2V614.6M151.96 422.2V614.6M156.58 422.2V614.6M161.20 422.2V614.6M165.82 422.2V614.6M170.44 422.2V614.6M175.06 422.2V614.6M179.68 422.2V614.6M184.30 422.2V614.6M188.93 422.2V614.6M193.55 422.2V614.6M198.17 422.2V614.6M202.79 422.2V614.6M207.41 422.2V614.6M212.03 422.2V614.6M216.65 422.2V614.6M221.27 422.2V614.6M225.89 422.2V614.6M230.51 422.2V614.6M235.14 422.2V614.6M239.76 422.2V614.6M244.38 422.2V614.6M249.00 422.2V614.6M253.62 422.2V614.6M258.24 422.2V614.6M262.86 422.2V614.6M267.48 422.2V614.6M272.10 422.2V614.6M276.72 422.2V614.6M281.35 422.2V614.6M285.97 422.2V614.6M290.59 422.2V614.6M295.21 422.2V614.6M299.83 422.2V614.6M304.45 422.2V614.6M309.07 422.2V614.6M313.69 422.2V614.6M318.31 422.2V614.6M322.93 422.2V614.6M327.56 422.2V614.6M332.18 422.2V614.6M336.80 422.2V614.6M341.42 422.2V614.6M346.04 422.2V614.6M350.66 422.2V614.6M355.28 422.2V614.6M359.90 422.2V614.6M364.52 422.2V614.6M369.14 422.2V614.6M373.76 422.2V614.6M378.39 422.2V614.6M383.01 422.2V614.6M387.63 422.2V614.6M392.25 422.2V614.6M396.87 422.2V614.6M401.49 422.2V614.6M406.11 422.2V614.6M410.73 422.2V614.6M415.35 422.2V614.6M419.98 422.2V614.6M424.60 422.2V614.6M429.22 422.2V614.6M433.84 422.2V614.6M438.46 422.2V614.6M443.08 422.2V614.6M447.70 422.2V614.6M452.32 422.2V614.6M456.94 422.2V614.6M461.56 422.2V614.6M466.19 422.2V614.6M470.81 422.2V614.6M475.43 422.2V614.6M480.05 422.2V614.6M484.67 422.2V614.6M489.29 422.2V614.6M493.91 422.2V614.6M498.53 422.2V614.6M503.15 422.2V614.6M507.77 422.2V614.6M512.40 422.2V614.6M517.02 422.2V614.6M521.64 422.2V614.6M526.26 422.2V614.6M530.88 422.2V614.6M535.50 422.2V614.6M540.12 422.2V614.6M544.74 422.2V614.6M549.36 422.2V614.6M553.98 422.2V614.6M558.61 422.2V614.6M563.23 422.2V614.6M567.85 422.2V614.6M572.47 422.2V614.6M577.09 422.2V614.6M581.71 422.2V614.6M586.33 422.2V614.6M590.95 422.2V614.6M595.57 422.2V614.6M600.19 422.2V614.6M604.82 422.2V614.6M609.44 422.2V614.6M614.06 422.2V614.6M618.68 422.2V614.6M623.30 422.2V614.6M627.92 422.2V614.6M632.54 422.2V614.6M637.16 422.2V614.6M641.78 422.2V614.6M646.40 422.2V614.6M651.02 422.2V614.6M655.65 422.2V614.6M660.27 422.2V614.6M664.89 422.2V614.6M669.51 422.2V614.6M67.8 614.60H675.1M67.8 587.11H675.1M67.8 559.63H675.1M67.8 532.14H675.1M67.8 504.66H675.1M67.8 477.17H675.1M67.8 449.69H675.1M67.8 422.20H675.1" stroke="#b0b0b0" stroke-opacity="0.4" stroke-width="1.0" fill="none"/>
<path d="M67.8 587.11h2.3M67.8 559.63h2.3M67.8 532.14h2.3M67.8 504.66h2.3M67.8 477.17h2.3M67.8 449.69h2.3M73.40 614.6v-6.3M78.02 614.6v-2.3M82.64 614.6v-2.3M87.26 614.6v-6.3M91.88 614.6v-2.3M96.51 614.6v-2.3M101.13 614.6v-6.3M105.75 614.6v-2.3M110.37 614.6v-2.3M114.99 614.6v-6.3M119.61 614.6v-2.3M124.23 614.6v-2.3M128.85 614.6v-6.3M133.47 614.6v-2.3M138.09 614.6v-2.3M142.72 614.6v-6.3M147.34 614.6v-2.3M151.96 614.6v-2.3M156.58 614.6v-6.3M161.20 614.6v-2.3M165.82 614.6v-2.3M170.44 614.6v-6.3M175.06 614.6v-2.3M179.68 614.6v-2.3M184.30 614.6v-6.3M188.93 614.6v-2.3M193.55 614.6v-2.3M198.17 614.6v-6.3M202.79 614.6v-2.3M207.41 614.6v-2.3M212.03 614.6v-6.3M216.65 614.6v-2.3M221.27 614.6v-2.3M225.89 614.6v-6.3M230.51 614.6v-2.3M235.14 614.6v-2.3M239.76 614.6v-6.3M244.38 614.6v-2.3M249.00 614.6v-2.3M253.62 614.6v-6.3M258.24 614.6v-2.3M262.86 614.6v-2.3M267.48 614.6v-6.3M272.10 614.6v-2.3M276.72 614.6v-2.3M281.35 614.6v-6.3M285.97 614.6v-2.3M290.59 614.6v-2.3M295.21 614.6v-6.3M299.83 614.6v-2.3M304.45 614.6v-2.3M309.07 614.6v-6.3M313.69 614.6v-2.3M318.31 614.6v-2.3M322.93 614.6v-6.3M327.56 614.6v-2.3M332.18 614.6v-2.3M336.80 614.6v-6.3M341.42 614.6v-2.3M346.04 614.6v-2.3M350.66 614.6v-6.3M355.28 614.6v-2.3M359.90 614.6v-2.3M364.52 614.6v-6.3M369.14 614.6v-2.3M373.76 614.6v-2.3M378.39 614.6v-6.3M383.01 614.6v-2.3M387.63 614.6v-2.3M392.25 614.6v-6.3M396.87 614.6v-2.3M401.49 614.6v-2.3M406.11 614.6v-6.3M410.73 614.6v-2.3M415.35 614.6v-2.3M419.98 614.6v-6.3M424.60 614.6v-2.3M429.22 614.6v-2.3M433.84 614.6v-6.3M438.46 614.6v-2.3M443.08 614.6v-2.3M447.70 614.6v-6.3M452.32 614.6v-2.3M456.94 614.6v-2.3M461.56 614.6v-6.3M466.19 614.6v-2.3M470.81 614.6v-2.3M475.43 614.6v-6.3M480.05 614.6v-2.3M484.67 614.6v-2.3M489.29 614.6v-6.3M493.91 614.6v-2.3M498.53 614.6v-2.3M503.15 614.6v-6.3M507.77 614.6v-2.3M512.40 614.6v-2.3M517.02 614.6v-6.3M521.64 614.6v-2.3M526.26 614.6v-2.3M530.88 614.6v-6.3M535.50 614.6v-2.3M540.12 614.6v-2.3M544.74 614.6v-6.3M549.36 614.6v-2.3M553.98 614.6v-2.3M558.61 614.6v-6.3M563.23 614.6v-2.3M567.85 614.6v-2.3M572.47 614.6v-6.3M577.09 614.6v-2.3M581.71 614.6v-2.3M586.33 614.6v-6.3M590.95 614.6v-2.3M595.57 614.6v-2.3M600.19 614.6v-6.3M604.82 614.6v-2.3M609.44 614.6v-2.3M614.06 614.6v-6.3M618.68 614.6v-2.3M623.30 614.6v-2.3M627.92 614.6v-6.3M632.54 614.6v-2.3M637.16 614.6v-2.3M641.78 614.6v-6.3M646.40 614.6v-2.3M651.02 614.6v-2.3M655.65 614.6v-6.3M660.27 614.6v-2.3M664.89 614.6v-2.3M669.51 614.6v-6.3" stroke="#000" stroke-width="1.45" fill="none"/>
<rect x="67.8" y="422.2" width="607.30" height="192.40" fill="none" stroke="#000" stroke-width="1.45"/>
<text x="61.40" y="619.43" text-anchor="end" font-size="12.2">0.900</text>
<text x="61.40" y="591.95" text-anchor="end" font-size="12.2">0.925</text>
<text x="61.40" y="564.46" text-anchor="end" font-size="12.2">0.950</text>
<text x="61.40" y="536.97" text-anchor="end" font-size="12.2">0.975</text>
<text x="61.40" y="509.49" text-anchor="end" font-size="12.2">1.000</text>
<text x="61.40" y="482.00" text-anchor="end" font-size="12.2">1.025</text>
<text x="61.40" y="454.52" text-anchor="end" font-size="12.2">1.050</text>
<text x="61.40" y="427.03" text-anchor="end" font-size="12.2">1.075</text>
<text transform="translate(73.40,626.58) rotate(-60)" x="0" y="3.17" text-anchor="middle" font-size="12.2">150</text>
<text transform="translate(87.26,620.70) rotate(-60)" x="0" y="3.17" text-anchor="middle" font-size="12.2">1</text>
<text transform="translate(101.13,620.70) rotate(-60)" x="0" y="3.17" text-anchor="middle" font-size="12.2">9</text>
<text transform="translate(114.99,623.64) rotate(-60)" x="0" y="3.17" text-anchor="middle" font-size="12.2">14</text>
<text transform="translate(128.85,623.64) rotate(-60)" x="0" y="3.17" text-anchor="middle" font-size="12.2">10</text>
<text transform="translate(142.72,623.64) rotate(-60)" x="0" y="3.17" text-anchor="middle" font-size="12.2">20</text>
<text transform="translate(156.58,625.40) rotate(-60)" x="0" y="3.17" text-anchor="middle" font-size="12.2">25r</text>
<text transform="translate(170.44,623.64) rotate(-60)" x="0" y="3.17" text-anchor="middle" font-size="12.2">27</text>
<text transform="translate(184.30,623.64) rotate(-60)" x="0" y="3.17" text-anchor="middle" font-size="12.2">30</text>
<text transform="translate(198.17,623.64) rotate(-60)" x="0" y="3.17" text-anchor="middle" font-size="12.2">36</text>
<text transform="translate(212.03,623.64) rotate(-60)" x="0" y="3.17" text-anchor="middle" font-size="12.2">39</text>
<text transform="translate(225.89,623.64) rotate(-60)" x="0" y="3.17" text-anchor="middle" font-size="12.2">45</text>
<text transform="translate(239.76,623.64) rotate(-60)" x="0" y="3.17" text-anchor="middle" font-size="12.2">48</text>
<text transform="translate(253.62,623.64) rotate(-60)" x="0" y="3.17" text-anchor="middle" font-size="12.2">51</text>
<text transform="translate(267.48,623.64) rotate(-60)" x="0" y="3.17" text-anchor="middle" font-size="12.2">53</text>
<text transform="translate(281.35,623.64) rotate(-60)" x="0" y="3.17" text-anchor="middle" font-size="12.2">57</text>
<text transform="translate(295.21,623.64) rotate(-60)" x="0" y="3.17" text-anchor="middle" font-size="12.2">61</text>
<text transform="translate(309.07,623.64) rotate(-60)" x="0" y="3.17" text-anchor="middle" font-size="12.2">64</text>
<text transform="translate(322.93,623.64) rotate(-60)" x="0" y="3.17" text-anchor="middle" font-size="12.2">67</text>
<text transform="translate(336.80,623.64) rotate(-60)" x="0" y="3.17" text-anchor="middle" font-size="12.2">97</text>
<text transform="translate(350.66,623.64) rotate(-60)" x="0" y="3.17" text-anchor="middle" font-size="12.2">71</text>
<text transform="translate(364.52,623.64) rotate(-60)" x="0" y="3.17" text-anchor="middle" font-size="12.2">77</text>
<text transform="translate(378.39,623.64) rotate(-60)" x="0" y="3.17" text-anchor="middle" font-size="12.2">79</text>
<text transform="translate(392.25,623.64) rotate(-60)" x="0" y="3.17" text-anchor="middle" font-size="12.2">82</text>
<text transform="translate(406.11,623.64) rotate(-60)" x="0" y="3.17" text-anchor="middle" font-size="12.2">88</text>
<text transform="translate(419.98,623.64) rotate(-60)" x="0" y="3.17" text-anchor="middle" font-size="12.2">92</text>
<text transform="translate(433.84,623.64) rotate(-60)" x="0" y="3.17" text-anchor="middle" font-size="12.2">95</text>
<text transform="translate(447.70,623.64) rotate(-60)" x="0" y="3.17" text-anchor="middle" font-size="12.2">99</text>
<text transform="translate(461.56,626.58) rotate(-60)" x="0" y="3.17" text-anchor="middle" font-size="12.2">197</text>
<text transform="translate(475.43,626.58) rotate(-60)" x="0" y="3.17" text-anchor="middle" font-size="12.2">104</text>
<text transform="translate(489.29,626.58) rotate(-60)" x="0" y="3.17" text-anchor="middle" font-size="12.2">300</text>
<text transform="translate(503.15,626.19) rotate(-60)" x="0" y="3.17" text-anchor="middle" font-size="12.2">112</text>
<text transform="translate(517.02,626.58) rotate(-60)" x="0" y="3.17" text-anchor="middle" font-size="12.2">135</text>
<text transform="translate(530.88,626.58) rotate(-60)" x="0" y="3.17" text-anchor="middle" font-size="12.2">160</text>
<text transform="translate(544.74,620.70) rotate(-60)" x="0" y="3.17" text-anchor="middle" font-size="12.2">2</text>
<text transform="translate(558.61,623.64) rotate(-60)" x="0" y="3.17" text-anchor="middle" font-size="12.2">38</text>
<text transform="translate(572.47,623.64) rotate(-60)" x="0" y="3.17" text-anchor="middle" font-size="12.2">59</text>
<text transform="translate(586.33,626.58) rotate(-60)" x="0" y="3.17" text-anchor="middle" font-size="12.2">107</text>
<text transform="translate(600.19,620.70) rotate(-60)" x="0" y="3.17" text-anchor="middle" font-size="12.2">5</text>
<text transform="translate(614.06,623.64) rotate(-60)" x="0" y="3.17" text-anchor="middle" font-size="12.2">15</text>
<text transform="translate(627.92,623.64) rotate(-60)" x="0" y="3.17" text-anchor="middle" font-size="12.2">24</text>
<text transform="translate(641.78,623.64) rotate(-60)" x="0" y="3.17" text-anchor="middle" font-size="12.2">41</text>
<text transform="translate(655.65,623.64) rotate(-60)" x="0" y="3.17" text-anchor="middle" font-size="12.2">84</text>
<text transform="translate(669.51,626.58) rotate(-60)" x="0" y="3.17" text-anchor="middle" font-size="12.2">103</text>
<text x="371.45" y="642.00" text-anchor="middle" font-size="12.4">Buses</text>
<text transform="translate(21.00,518.40) rotate(-90)" text-anchor="middle" font-size="12.4">Voltage (in per unit)</text>
<text x="75.8" y="438.8" font-weight="bold" font-size="12.5">e</text>
<clipPath id="clipf"><rect x="60.9" y="657.7" width="614.20" height="196.70"/></clipPath>
<g clip-path="url(#clipf)"><rect x="62.85" y="771.97" width="7.50" height="7.50" rx="0.6" fill="#ff0000"/><rect x="67.52" y="742.54" width="7.50" height="7.50" rx="0.6" fill="#ff0000"/><rect x="72.19" y="742.54" width="7.50" height="7.50" rx="0.6" fill="#ff0000"/><rect x="76.86" y="753.56" width="7.50" height="7.50" rx="0.6" fill="#ff0000"/><rect x="81.53" y="756.86" width="7.50" height="7.50" rx="0.6" fill="#ff0000"/><rect x="86.20" y="759.70" width="7.50" height="7.50" rx="0.6" fill="#ff0000"/><rect x="90.88" y="761.58" width="7.50" height="7.50" rx="0.6" fill="#ff0000"/><rect x="95.55" y="764.10" width="7.50" height="7.50" rx="0.6" fill="#ff0000"/><rect x="100.22" y="761.58" width="7.50" height="7.50" rx="0.6" fill="#ff0000"/><rect x="104.89" y="762.37" width="7.50" height="7.50" rx="0.6" fill="#ff0000"/><rect x="109.56" y="773.86" width="7.50" height="7.50" rx="0.6" fill="#ff0000"/><rect x="114.23" y="763.32" width="7.50" height="7.50" rx="0.6" fill="#ff0000"/><rect x="118.90" y="763.32" width="7.50" height="7.50" rx="0.6" fill="#ff0000"/><rect x="123.57" y="776.06" width="7.50" height="7.50" rx="0.6" fill="#ff0000"/><rect x="128.24" y="779.68" width="7.50" height="7.50" rx="0.6" fill="#ff0000"/><rect x="132.91" y="777.48" width="7.50" height="7.50" rx="0.6" fill="#ff0000"/><rect x="137.59" y="779.68" width="7.50" height="7.50" rx="0.6" fill="#ff0000"/><rect x="142.26" y="779.68" width="7.50" height="7.50" rx="0.6" fill="#ff0000"/><rect x="146.93" y="769.29" width="7.50" height="7.50" rx="0.6" fill="#ff0000"/><rect x="151.60" y="769.29" width="7.50" height="7.50" rx="0.6" fill="#ff0000"/><rect x="156.27" y="780.15" width="7.50" height="7.50" rx="0.6" fill="#ff0000"/><rect x="160.94" y="769.29" width="7.50" height="7.50" rx="0.6" fill="#ff0000"/><rect x="165.61" y="769.29" width="7.50" height="7.50" rx="0.6" fill="#ff0000"/><rect x="170.28" y="780.62" width="7.50" height="7.50" rx="0.6" fill="#ff0000"/><rect x="174.95" y="780.62" width="7.50" height="7.50" rx="0.6" fill="#ff0000"/><rect x="179.62" y="780.62" width="7.50" height="7.50" rx="0.6" fill="#ff0000"/><rect x="184.30" y="778.11" width="7.50" height="7.50" rx="0.6" fill="#ff0000"/><rect x="188.97" y="778.89" width="7.50" height="7.50" rx="0.6" fill="#ff0000"/><rect x="193.64" y="779.68" width="7.50" height="7.50" rx="0.6" fill="#ff0000"/><rect x="198.31" y="779.68" width="7.50" height="7.50" rx="0.6" fill="#ff0000"/><rect x="207.65" y="780.62" width="7.50" height="7.50" rx="0.6" fill="#ff0000"/><rect x="212.32" y="781.41" width="7.50" height="7.50" rx="0.6" fill="#ff0000"/><rect x="216.99" y="780.94" width="7.50" height="7.50" rx="0.6" fill="#ff0000"/><rect x="221.66" y="783.61" width="7.50" height="7.50" rx="0.6" fill="#ff0000"/><rect x="226.34" y="777.95" width="7.50" height="7.50" rx="0.6" fill="#ff0000"/><rect x="231.01" y="784.40" width="7.50" height="7.50" rx="0.6" fill="#ff0000"/><rect x="235.68" y="784.87" width="7.50" height="7.50" rx="0.6" fill="#ff0000"/><rect x="240.35" y="785.82" width="7.50" height="7.50" rx="0.6" fill="#ff0000"/><rect x="245.02" y="786.13" width="7.50" height="7.50" rx="0.6" fill="#ff0000"/><rect x="249.69" y="785.35" width="7.50" height="7.50" rx="0.6" fill="#ff0000"/><rect x="254.36" y="764.10" width="7.50" height="7.50" rx="0.6" fill="#ff0000"/><rect x="259.03" y="764.10" width="7.50" height="7.50" rx="0.6" fill="#ff0000"/><rect x="263.70" y="764.10" width="7.50" height="7.50" rx="0.6" fill="#ff0000"/><rect x="268.37" y="764.10" width="7.50" height="7.50" rx="0.6" fill="#ff0000"/><rect x="273.05" y="764.10" width="7.50" height="7.50" rx="0.6" fill="#ff0000"/><rect x="277.72" y="763.63" width="7.50" height="7.50" rx="0.6" fill="#ff0000"/><rect x="282.39" y="797.46" width="7.50" height="7.50" rx="0.6" fill="#ff0000"/><rect x="287.06" y="797.46" width="7.50" height="7.50" rx="0.6" fill="#ff0000"/><rect x="291.73" y="796.68" width="7.50" height="7.50" rx="0.6" fill="#ff0000"/><rect x="296.40" y="794.32" width="7.50" height="7.50" rx="0.6" fill="#ff0000"/><rect x="301.07" y="792.74" width="7.50" height="7.50" rx="0.6" fill="#ff0000"/><rect x="305.74" y="790.07" width="7.50" height="7.50" rx="0.6" fill="#ff0000"/><rect x="310.41" y="790.07" width="7.50" height="7.50" rx="0.6" fill="#ff0000"/><rect x="315.08" y="720.83" width="7.50" height="7.50" rx="0.6" fill="#ff0000"/><rect x="319.75" y="721.46" width="7.50" height="7.50" rx="0.6" fill="#ff0000"/><rect x="324.43" y="768.67" width="7.50" height="7.50" rx="0.6" fill="#ff0000"/><rect x="329.10" y="781.10" width="7.50" height="7.50" rx="0.6" fill="#ff0000"/><rect x="333.77" y="721.14" width="7.50" height="7.50" rx="0.6" fill="#ff0000"/><rect x="338.44" y="720.36" width="7.50" height="7.50" rx="0.6" fill="#ff0000"/><rect x="343.11" y="718.31" width="7.50" height="7.50" rx="0.6" fill="#ff0000"/><rect x="347.78" y="768.67" width="7.50" height="7.50" rx="0.6" fill="#ff0000"/><rect x="352.45" y="768.04" width="7.50" height="7.50" rx="0.6" fill="#ff0000"/><rect x="357.12" y="768.04" width="7.50" height="7.50" rx="0.6" fill="#ff0000"/><rect x="361.79" y="768.67" width="7.50" height="7.50" rx="0.6" fill="#ff0000"/><rect x="366.47" y="767.56" width="7.50" height="7.50" rx="0.6" fill="#ff0000"/><rect x="371.14" y="768.67" width="7.50" height="7.50" rx="0.6" fill="#ff0000"/><rect x="375.81" y="765.36" width="7.50" height="7.50" rx="0.6" fill="#ff0000"/><rect x="380.48" y="763.16" width="7.50" height="7.50" rx="0.6" fill="#ff0000"/><rect x="385.15" y="762.21" width="7.50" height="7.50" rx="0.6" fill="#ff0000"/><rect x="389.82" y="761.11" width="7.50" height="7.50" rx="0.6" fill="#ff0000"/><rect x="394.49" y="762.21" width="7.50" height="7.50" rx="0.6" fill="#ff0000"/><rect x="399.16" y="762.69" width="7.50" height="7.50" rx="0.6" fill="#ff0000"/><rect x="403.83" y="763.16" width="7.50" height="7.50" rx="0.6" fill="#ff0000"/><rect x="408.50" y="763.79" width="7.50" height="7.50" rx="0.6" fill="#ff0000"/><rect x="413.18" y="764.10" width="7.50" height="7.50" rx="0.6" fill="#ff0000"/><rect x="417.85" y="764.10" width="7.50" height="7.50" rx="0.6" fill="#ff0000"/><rect x="422.52" y="764.10" width="7.50" height="7.50" rx="0.6" fill="#ff0000"/><rect x="427.19" y="764.10" width="7.50" height="7.50" rx="0.6" fill="#ff0000"/><rect x="436.53" y="780.31" width="7.50" height="7.50" rx="0.6" fill="#ff0000"/><rect x="441.20" y="778.11" width="7.50" height="7.50" rx="0.6" fill="#ff0000"/><rect x="445.87" y="776.22" width="7.50" height="7.50" rx="0.6" fill="#ff0000"/><rect x="450.54" y="772.44" width="7.50" height="7.50" rx="0.6" fill="#ff0000"/><rect x="455.21" y="781.10" width="7.50" height="7.50" rx="0.6" fill="#ff0000"/><rect x="459.88" y="781.41" width="7.50" height="7.50" rx="0.6" fill="#ff0000"/><rect x="464.56" y="781.10" width="7.50" height="7.50" rx="0.6" fill="#ff0000"/><rect x="473.90" y="781.57" width="7.50" height="7.50" rx="0.6" fill="#ff0000"/><rect x="478.57" y="786.92" width="7.50" height="7.50" rx="0.6" fill="#ff0000"/><rect x="483.24" y="781.57" width="7.50" height="7.50" rx="0.6" fill="#ff0000"/><rect x="487.91" y="787.86" width="7.50" height="7.50" rx="0.6" fill="#ff0000"/><rect x="492.58" y="788.34" width="7.50" height="7.50" rx="0.6" fill="#ff0000"/><rect x="497.25" y="788.81" width="7.50" height="7.50" rx="0.6" fill="#ff0000"/><rect x="501.92" y="790.85" width="7.50" height="7.50" rx="0.6" fill="#ff0000"/><rect x="506.60" y="791.17" width="7.50" height="7.50" rx="0.6" fill="#ff0000"/><rect x="511.27" y="774.02" width="7.50" height="7.50" rx="0.6" fill="#ff0000"/><rect x="515.94" y="764.26" width="7.50" height="7.50" rx="0.6" fill="#ff0000"/><rect x="520.61" y="720.51" width="7.50" height="7.50" rx="0.6" fill="#ff0000"/><rect x="525.28" y="797.93" width="7.50" height="7.50" rx="0.6" fill="#ff0000"/><rect x="529.95" y="797.93" width="7.50" height="7.50" rx="0.6" fill="#ff0000"/><rect x="534.62" y="782.20" width="7.50" height="7.50" rx="0.6" fill="#ff0000"/><path d="M66.60 771.97L70.35 779.47L62.85 779.47Z" fill="#0000ff"/><path d="M71.27 742.54L75.02 750.04L67.52 750.04Z" fill="#0000ff"/><path d="M75.94 742.54L79.69 750.04L72.19 750.04Z" fill="#0000ff"/><path d="M80.61 743.02L84.36 750.52L76.86 750.52Z" fill="#0000ff"/><path d="M85.28 743.33L89.03 750.83L81.53 750.83Z" fill="#0000ff"/><path d="M89.95 743.80L93.70 751.30L86.20 751.30Z" fill="#0000ff"/><path d="M99.30 744.43L103.05 751.93L95.55 751.93Z" fill="#0000ff"/><path d="M113.31 746.64L117.06 754.14L109.56 754.14Z" fill="#0000ff"/><path d="M131.99 749.15L135.74 756.65L128.24 756.65Z" fill="#0000ff"/><path d="M141.34 748.52L145.09 756.02L137.59 756.02Z" fill="#0000ff"/><path d="M146.01 747.89L149.76 755.39L142.26 755.39Z" fill="#0000ff"/><path d="M160.02 747.42L163.77 754.92L156.27 754.92Z" fill="#0000ff"/><path d="M174.03 746.79L177.78 754.29L170.28 754.29Z" fill="#0000ff"/><path d="M178.70 746.16L182.45 753.66L174.95 753.66Z" fill="#0000ff"/><path d="M183.38 746.16L187.12 753.66L179.62 753.66Z" fill="#0000ff"/><path d="M188.05 749.00L191.80 756.50L184.30 756.50Z" fill="#0000ff"/><path d="M192.72 746.16L196.47 753.66L188.97 753.66Z" fill="#0000ff"/><path d="M197.39 751.20L201.14 758.70L193.64 758.70Z" fill="#0000ff"/><path d="M206.73 742.23L210.48 749.73L202.98 749.73Z" fill="#0000ff"/><path d="M211.40 753.09L215.15 760.59L207.65 760.59Z" fill="#0000ff"/><path d="M216.07 754.50L219.82 762.00L212.32 762.00Z" fill="#0000ff"/><path d="M225.41 755.92L229.16 763.42L221.66 763.42Z" fill="#0000ff"/><path d="M234.76 756.39L238.51 763.89L231.01 763.89Z" fill="#0000ff"/><path d="M239.43 756.39L243.18 763.89L235.68 763.89Z" fill="#0000ff"/><path d="M244.10 755.92L247.85 763.42L240.35 763.42Z" fill="#0000ff"/><path d="M248.77 755.45L252.52 762.95L245.02 762.95Z" fill="#0000ff"/><path d="M253.44 753.40L257.19 760.90L249.69 760.90Z" fill="#0000ff"/><path d="M258.11 744.75L261.86 752.25L254.36 752.25Z" fill="#0000ff"/><path d="M262.78 745.06L266.53 752.56L259.03 752.56Z" fill="#0000ff"/><path d="M267.45 745.06L271.20 752.56L263.70 752.56Z" fill="#0000ff"/><path d="M272.12 744.75L275.87 752.25L268.37 752.25Z" fill="#0000ff"/><path d="M276.80 745.06L280.55 752.56L273.05 752.56Z" fill="#0000ff"/><path d="M281.47 746.79L285.22 754.29L277.72 754.29Z" fill="#0000ff"/><path d="M286.14 758.12L289.89 765.62L282.39 765.62Z" fill="#0000ff"/><path d="M290.81 758.12L294.56 765.62L287.06 765.62Z" fill="#0000ff"/><path d="M295.48 758.12L299.23 765.62L291.73 765.62Z" fill="#0000ff"/><path d="M300.15 758.91L303.90 766.41L296.40 766.41Z" fill="#0000ff"/><path d="M304.82 759.85L308.57 767.35L301.07 767.35Z" fill="#0000ff"/><path d="M309.49 757.18L313.24 764.68L305.74 764.68Z" fill="#0000ff"/><path d="M314.16 757.18L317.91 764.68L310.41 764.68Z" fill="#0000ff"/><path d="M318.83 717.84L322.58 725.34L315.08 725.34Z" fill="#0000ff"/><path d="M328.18 725.86L331.93 733.36L324.43 733.36Z" fill="#0000ff"/><path d="M332.85 743.17L336.60 750.67L329.10 750.67Z" fill="#0000ff"/><path d="M351.53 725.86L355.28 733.36L347.78 733.36Z" fill="#0000ff"/><path d="M360.87 723.19L364.62 730.69L357.12 730.69Z" fill="#0000ff"/><path d="M365.54 725.86L369.29 733.36L361.79 733.36Z" fill="#0000ff"/><path d="M370.22 722.72L373.97 730.22L366.47 730.22Z" fill="#0000ff"/><path d="M374.89 723.82L378.64 731.32L371.14 731.32Z" fill="#0000ff"/><path d="M379.56 718.31L383.31 725.81L375.81 725.81Z" fill="#0000ff"/><path d="M384.23 716.26L387.98 723.76L380.48 723.76Z" fill="#0000ff"/><path d="M388.90 712.96L392.65 720.46L385.15 720.46Z" fill="#0000ff"/><path d="M393.57 710.28L397.32 717.78L389.82 717.78Z" fill="#0000ff"/><path d="M398.24 704.31L401.99 711.81L394.49 711.81Z" fill="#0000ff"/><path d="M407.58 703.52L411.33 711.02L403.83 711.02Z" fill="#0000ff"/><path d="M412.25 703.52L416.00 711.02L408.50 711.02Z" fill="#0000ff"/><path d="M416.93 748.37L420.68 755.87L413.18 755.87Z" fill="#0000ff"/><path d="M421.60 703.83L425.35 711.33L417.85 711.33Z" fill="#0000ff"/><path d="M426.27 745.38L430.02 752.88L422.52 752.88Z" fill="#0000ff"/><path d="M430.94 703.83L434.69 711.33L427.19 711.33Z" fill="#0000ff"/><path d="M435.61 702.10L439.36 709.60L431.86 709.60Z" fill="#0000ff"/><path d="M440.28 741.60L444.03 749.10L436.53 749.10Z" fill="#0000ff"/><path d="M444.95 739.24L448.70 746.74L441.20 746.74Z" fill="#0000ff"/><path d="M449.62 737.04L453.37 744.54L445.87 744.54Z" fill="#0000ff"/><path d="M454.29 731.37L458.04 738.87L450.54 738.87Z" fill="#0000ff"/><path d="M458.96 743.02L462.71 750.52L455.21 750.52Z" fill="#0000ff"/><path d="M463.63 744.27L467.38 751.77L459.88 751.77Z" fill="#0000ff"/><path d="M468.31 744.27L472.06 751.77L464.56 751.77Z" fill="#0000ff"/><path d="M477.65 742.70L481.40 750.20L473.90 750.20Z" fill="#0000ff"/><path d="M486.99 744.27L490.74 751.77L483.24 751.77Z" fill="#0000ff"/><path d="M515.02 746.48L518.77 753.98L511.27 753.98Z" fill="#0000ff"/><path d="M519.69 744.27L523.44 751.77L515.94 751.77Z" fill="#0000ff"/><path d="M524.36 718.47L528.11 725.97L520.61 725.97Z" fill="#0000ff"/><path d="M529.03 757.81L532.78 765.31L525.28 765.31Z" fill="#0000ff"/><path d="M533.70 757.81L537.45 765.31L529.95 765.31Z" fill="#0000ff"/><path d="M538.37 773.54L542.12 781.04L534.62 781.04Z" fill="#0000ff"/><path d="M543.04 743.80L546.79 751.30L539.29 751.30Z" fill="#0000ff"/><path d="M547.71 743.80L551.46 751.30L543.96 751.30Z" fill="#0000ff"/><path d="M552.38 751.36L556.13 758.86L548.63 758.86Z" fill="#0000ff"/><path d="M557.06 744.90L560.81 752.40L553.31 752.40Z" fill="#0000ff"/><path d="M561.73 755.13L565.48 762.63L557.98 762.63Z" fill="#0000ff"/><path d="M566.40 746.79L570.15 754.29L562.65 754.29Z" fill="#0000ff"/><path d="M571.07 747.26L574.82 754.76L567.32 754.76Z" fill="#0000ff"/><path d="M575.74 703.68L579.49 711.18L571.99 711.18Z" fill="#0000ff"/><path d="M580.41 746.16L584.16 753.66L576.66 753.66Z" fill="#0000ff"/><path d="M585.08 748.52L588.83 756.02L581.33 756.02Z" fill="#0000ff"/><circle cx="66.60" cy="775.72" r="3.75" fill="#008000"/><circle cx="71.27" cy="746.29" r="3.75" fill="#008000"/><circle cx="75.94" cy="746.29" r="3.75" fill="#008000"/><circle cx="80.61" cy="751.49" r="3.75" fill="#008000"/><circle cx="85.28" cy="754.00" r="3.75" fill="#008000"/><circle cx="89.95" cy="755.58" r="3.75" fill="#008000"/><circle cx="99.30" cy="757.94" r="3.75" fill="#008000"/><circle cx="113.31" cy="768.32" r="3.75" fill="#008000"/><circle cx="131.99" cy="774.30" r="3.75" fill="#008000"/><circle cx="141.34" cy="774.78" r="3.75" fill="#008000"/><circle cx="146.01" cy="773.99" r="3.75" fill="#008000"/><circle cx="150.68" cy="773.99" r="3.75" fill="#008000"/><circle cx="155.35" cy="774.78" r="3.75" fill="#008000"/><circle cx="160.02" cy="774.78" r="3.75" fill="#008000"/><circle cx="164.69" cy="774.62" r="3.75" fill="#008000"/><circle cx="174.03" cy="773.99" r="3.75" fill="#008000"/><circle cx="178.70" cy="773.99" r="3.75" fill="#008000"/><circle cx="183.38" cy="773.52" r="3.75" fill="#008000"/><circle cx="188.05" cy="771.00" r="3.75" fill="#008000"/><circle cx="197.39" cy="772.26" r="3.75" fill="#008000"/><circle cx="211.40" cy="773.52" r="3.75" fill="#008000"/><circle cx="216.07" cy="774.30" r="3.75" fill="#008000"/><circle cx="225.41" cy="774.78" r="3.75" fill="#008000"/><circle cx="234.76" cy="775.72" r="3.75" fill="#008000"/><circle cx="239.43" cy="775.72" r="3.75" fill="#008000"/><circle cx="244.10" cy="775.72" r="3.75" fill="#008000"/><circle cx="248.77" cy="774.78" r="3.75" fill="#008000"/><circle cx="253.44" cy="773.04" r="3.75" fill="#008000"/><circle cx="258.11" cy="755.26" r="3.75" fill="#008000"/><circle cx="262.78" cy="754.00" r="3.75" fill="#008000"/><circle cx="267.45" cy="753.22" r="3.75" fill="#008000"/><circle cx="272.12" cy="751.49" r="3.75" fill="#008000"/><circle cx="276.80" cy="752.27" r="3.75" fill="#008000"/><circle cx="281.47" cy="747.55" r="3.75" fill="#008000"/><circle cx="286.14" cy="778.71" r="3.75" fill="#008000"/><circle cx="290.81" cy="778.71" r="3.75" fill="#008000"/><circle cx="295.48" cy="779.18" r="3.75" fill="#008000"/><circle cx="300.15" cy="778.24" r="3.75" fill="#008000"/><circle cx="304.82" cy="777.77" r="3.75" fill="#008000"/><circle cx="309.49" cy="777.45" r="3.75" fill="#008000"/><circle cx="314.16" cy="776.66" r="3.75" fill="#008000"/><circle cx="318.83" cy="720.01" r="3.75" fill="#008000"/><circle cx="328.18" cy="750.07" r="3.75" fill="#008000"/><circle cx="332.85" cy="765.33" r="3.75" fill="#008000"/><circle cx="351.53" cy="750.07" r="3.75" fill="#008000"/><circle cx="356.20" cy="748.97" r="3.75" fill="#008000"/><circle cx="360.87" cy="749.44" r="3.75" fill="#008000"/><circle cx="365.54" cy="749.60" r="3.75" fill="#008000"/><circle cx="370.22" cy="749.13" r="3.75" fill="#008000"/><circle cx="374.89" cy="748.65" r="3.75" fill="#008000"/><circle cx="379.56" cy="746.92" r="3.75" fill="#008000"/><circle cx="384.23" cy="746.45" r="3.75" fill="#008000"/><circle cx="388.90" cy="744.88" r="3.75" fill="#008000"/><circle cx="393.57" cy="743.15" r="3.75" fill="#008000"/><circle cx="398.24" cy="743.15" r="3.75" fill="#008000"/><circle cx="407.58" cy="743.78" r="3.75" fill="#008000"/><circle cx="412.25" cy="744.25" r="3.75" fill="#008000"/><circle cx="416.93" cy="744.88" r="3.75" fill="#008000"/><circle cx="421.60" cy="743.15" r="3.75" fill="#008000"/><circle cx="426.27" cy="752.90" r="3.75" fill="#008000"/><circle cx="430.94" cy="743.15" r="3.75" fill="#008000"/><circle cx="440.28" cy="763.76" r="3.75" fill="#008000"/><circle cx="444.95" cy="761.09" r="3.75" fill="#008000"/><circle cx="449.62" cy="759.35" r="3.75" fill="#008000"/><circle cx="454.29" cy="755.11" r="3.75" fill="#008000"/><circle cx="458.96" cy="765.33" r="3.75" fill="#008000"/><circle cx="463.63" cy="766.91" r="3.75" fill="#008000"/><circle cx="468.31" cy="766.44" r="3.75" fill="#008000"/><circle cx="472.98" cy="770.21" r="3.75" fill="#008000"/><circle cx="477.65" cy="766.44" r="3.75" fill="#008000"/><circle cx="486.99" cy="769.11" r="3.75" fill="#008000"/><circle cx="515.02" cy="768.48" r="3.75" fill="#008000"/><circle cx="519.69" cy="757.78" r="3.75" fill="#008000"/><circle cx="524.36" cy="720.01" r="3.75" fill="#008000"/><circle cx="529.03" cy="778.87" r="3.75" fill="#008000"/><circle cx="533.70" cy="778.87" r="3.75" fill="#008000"/><circle cx="538.37" cy="778.55" r="3.75" fill="#008000"/><circle cx="589.75" cy="754.32" r="3.75" fill="#008000"/><circle cx="594.42" cy="754.95" r="3.75" fill="#008000"/><circle cx="599.09" cy="756.21" r="3.75" fill="#008000"/><circle cx="603.77" cy="757.47" r="3.75" fill="#008000"/><circle cx="608.44" cy="759.51" r="3.75" fill="#008000"/><circle cx="613.11" cy="760.14" r="3.75" fill="#008000"/><circle cx="617.78" cy="761.56" r="3.75" fill="#008000"/><circle cx="622.45" cy="760.77" r="3.75" fill="#008000"/><circle cx="627.12" cy="776.98" r="3.75" fill="#008000"/><circle cx="631.79" cy="776.19" r="3.75" fill="#008000"/><circle cx="636.46" cy="776.66" r="3.75" fill="#008000"/><circle cx="641.13" cy="772.89" r="3.75" fill="#008000"/><circle cx="645.80" cy="750.70" r="3.75" fill="#008000"/><circle cx="650.48" cy="750.23" r="3.75" fill="#008000"/><circle cx="655.15" cy="750.23" r="3.75" fill="#008000"/><circle cx="659.82" cy="751.64" r="3.75" fill="#008000"/><circle cx="664.49" cy="768.48" r="3.75" fill="#008000"/><circle cx="669.16" cy="769.90" r="3.75" fill="#008000"/></g>
<path d="M66.60 657.7V854.4M71.27 657.7V854.4M75.94 657.7V854.4M80.61 657.7V854.4M85.28 657.7V854.4M89.95 657.7V854.4M94.63 657.7V854.4M99.30 657.7V854.4M103.97 657.7V854.4M108.64 657.7V854.4M113.31 657.7V854.4M117.98 657.7V854.4M122.65 657.7V854.4M127.32 657.7V854.4M131.99 657.7V854.4M136.66 657.7V854.4M141.34 657.7V854.4M146.01 657.7V854.4M150.68 657.7V854.4M155.35 657.7V854.4M160.02 657.7V854.4M164.69 657.7V854.4M169.36 657.7V854.4M174.03 657.7V854.4M178.70 657.7V854.4M183.38 657.7V854.4M188.05 657.7V854.4M192.72 657.7V854.4M197.39 657.7V854.4M202.06 657.7V854.4M206.73 657.7V854.4M211.40 657.7V854.4M216.07 657.7V854.4M220.74 657.7V854.4M225.41 657.7V854.4M230.09 657.7V854.4M234.76 657.7V854.4M239.43 657.7V854.4M244.10 657.7V854.4M248.77 657.7V854.4M253.44 657.7V854.4M258.11 657.7V854.4M262.78 657.7V854.4M267.45 657.7V854.4M272.12 657.7V854.4M276.80 657.7V854.4M281.47 657.7V854.4M286.14 657.7V854.4M290.81 657.7V854.4M295.48 657.7V854.4M300.15 657.7V854.4M304.82 657.7V854.4M309.49 657.7V854.4M314.16 657.7V854.4M318.83 657.7V854.4M323.50 657.7V854.4M328.18 657.7V854.4M332.85 657.7V854.4M337.52 657.7V854.4M342.19 657.7V854.4M346.86 657.7V854.4M351.53 657.7V854.4M356.20 657.7V854.4M360.87 657.7V854.4M365.54 657.7V854.4M370.22 657.7V854.4M374.89 657.7V854.4M379.56 657.7V854.4M384.23 657.7V854.4M388.90 657.7V854.4M393.57 657.7V854.4M398.24 657.7V854.4M402.91 657.7V854.4M407.58 657.7V854.4M412.25 657.7V854.4M416.93 657.7V854.4M421.60 657.7V854.4M426.27 657.7V854.4M430.94 657.7V854.4M435.61 657.7V854.4M440.28 657.7V854.4M444.95 657.7V854.4M449.62 657.7V854.4M454.29 657.7V854.4M458.96 657.7V854.4M463.63 657.7V854.4M468.31 657.7V854.4M472.98 657.7V854.4M477.65 657.7V854.4M482.32 657.7V854.4M486.99 657.7V854.4M491.66 657.7V854.4M496.33 657.7V854.4M501.00 657.7V854.4M505.67 657.7V854.4M510.35 657.7V854.4M515.02 657.7V854.4M519.69 657.7V854.4M524.36 657.7V854.4M529.03 657.7V854.4M533.70 657.7V854.4M538.37 657.7V854.4M543.04 657.7V854.4M547.71 657.7V854.4M552.38 657.7V854.4M557.06 657.7V854.4M561.73 657.7V854.4M566.40 657.7V854.4M571.07 657.7V854.4M575.74 657.7V854.4M580.41 657.7V854.4M585.08 657.7V854.4M589.75 657.7V854.4M594.42 657.7V854.4M599.09 657.7V854.4M603.77 657.7V854.4M608.44 657.7V854.4M613.11 657.7V854.4M617.78 657.7V854.4M622.45 657.7V854.4M627.12 657.7V854.4M631.79 657.7V854.4M636.46 657.7V854.4M641.13 657.7V854.4M645.80 657.7V854.4M650.48 657.7V854.4M655.15 657.7V854.4M659.82 657.7V854.4M664.49 657.7V854.4M669.16 657.7V854.4M60.9 838.66H675.1M60.9 807.19H675.1M60.9 775.72H675.1M60.9 744.25H675.1M60.9 712.78H675.1M60.9 681.30H675.1" stroke="#b0b0b0" stroke-opacity="0.4" stroke-width="1.0" fill="none"/>
<path d="M60.9 838.66h2.3M60.9 807.19h2.3M60.9 775.72h2.3M60.9 744.25h2.3M60.9 712.78h2.3M60.9 681.30h2.3M66.60 854.4v-6.3M71.27 854.4v-2.3M75.94 854.4v-2.3M80.61 854.4v-6.3M85.28 854.4v-2.3M89.95 854.4v-2.3M94.63 854.4v-6.3M99.30 854.4v-2.3M103.97 854.4v-2.3M108.64 854.4v-6.3M113.31 854.4v-2.3M117.98 854.4v-2.3M122.65 854.4v-6.3M127.32 854.4v-2.3M131.99 854.4v-2.3M136.66 854.4v-6.3M141.34 854.4v-2.3M146.01 854.4v-2.3M150.68 854.4v-6.3M155.35 854.4v-2.3M160.02 854.4v-2.3M164.69 854.4v-6.3M169.36 854.4v-2.3M174.03 854.4v-2.3M178.70 854.4v-6.3M183.38 854.4v-2.3M188.05 854.4v-2.3M192.72 854.4v-6.3M197.39 854.4v-2.3M202.06 854.4v-2.3M206.73 854.4v-6.3M211.40 854.4v-2.3M216.07 854.4v-2.3M220.74 854.4v-6.3M225.41 854.4v-2.3M230.09 854.4v-2.3M234.76 854.4v-6.3M239.43 854.4v-2.3M244.10 854.4v-2.3M248.77 854.4v-6.3M253.44 854.4v-2.3M258.11 854.4v-2.3M262.78 854.4v-6.3M267.45 854.4v-2.3M272.12 854.4v-2.3M276.80 854.4v-6.3M281.47 854.4v-2.3M286.14 854.4v-2.3M290.81 854.4v-6.3M295.48 854.4v-2.3M300.15 854.4v-2.3M304.82 854.4v-6.3M309.49 854.4v-2.3M314.16 854.4v-2.3M318.83 854.4v-6.3M323.50 854.4v-2.3M328.18 854.4v-2.3M332.85 854.4v-6.3M337.52 854.4v-2.3M342.19 854.4v-2.3M346.86 854.4v-6.3M351.53 854.4v-2.3M356.20 854.4v-2.3M360.87 854.4v-6.3M365.54 854.4v-2.3M370.22 854.4v-2.3M374.89 854.4v-6.3M379.56 854.4v-2.3M384.23 854.4v-2.3M388.90 854.4v-6.3M393.57 854.4v-2.3M398.24 854.4v-2.3M402.91 854.4v-6.3M407.58 854.4v-2.3M412.25 854.4v-2.3M416.93 854.4v-6.3M421.60 854.4v-2.3M426.27 854.4v-2.3M430.94 854.4v-6.3M435.61 854.4v-2.3M440.28 854.4v-2.3M444.95 854.4v-6.3M449.62 854.4v-2.3M454.29 854.4v-2.3M458.96 854.4v-6.3M463.63 854.4v-2.3M468.31 854.4v-2.3M472.98 854.4v-6.3M477.65 854.4v-2.3M482.32 854.4v-2.3M486.99 854.4v-6.3M491.66 854.4v-2.3M496.33 854.4v-2.3M501.00 854.4v-6.3M505.67 854.4v-2.3M510.35 854.4v-2.3M515.02 854.4v-6.3M519.69 854.4v-2.3M524.36 854.4v-2.3M529.03 854.4v-6.3M533.70 854.4v-2.3M538.37 854.4v-2.3M543.04 854.4v-6.3M547.71 854.4v-2.3M552.38 854.4v-2.3M557.06 854.4v-6.3M561.73 854.4v-2.3M566.40 854.4v-2.3M571.07 854.4v-6.3M575.74 854.4v-2.3M580.41 854.4v-2.3M585.08 854.4v-6.3M589.75 854.4v-2.3M594.42 854.4v-2.3M599.09 854.4v-6.3M603.77 854.4v-2.3M608.44 854.4v-2.3M613.11 854.4v-6.3M617.78 854.4v-2.3M622.45 854.4v-2.3M627.12 854.4v-6.3M631.79 854.4v-2.3M636.46 854.4v-2.3M641.13 854.4v-6.3M645.80 854.4v-2.3M650.48 854.4v-2.3M655.15 854.4v-6.3M659.82 854.4v-2.3M664.49 854.4v-2.3M669.16 854.4v-6.3" stroke="#000" stroke-width="1.45" fill="none"/>
<rect x="60.9" y="657.7" width="614.20" height="196.70" fill="none" stroke="#000" stroke-width="1.45"/>
<text x="54.50" y="843.50" text-anchor="end" font-size="12.2">0.96</text>
<text x="54.50" y="812.02" text-anchor="end" font-size="12.2">0.98</text>
<text x="54.50" y="780.55" text-anchor="end" font-size="12.2">1.00</text>
<text x="54.50" y="749.08" text-anchor="end" font-size="12.2">1.02</text>
<text x="54.50" y="717.61" text-anchor="end" font-size="12.2">1.04</text>
<text x="54.50" y="686.13" text-anchor="end" font-size="12.2">1.06</text>
<text transform="translate(66.60,866.38) rotate(-60)" x="0" y="3.17" text-anchor="middle" font-size="12.2">150</text>
<text transform="translate(80.61,860.50) rotate(-60)" x="0" y="3.17" text-anchor="middle" font-size="12.2">1</text>
<text transform="translate(94.63,860.50) rotate(-60)" x="0" y="3.17" text-anchor="middle" font-size="12.2">9</text>
<text transform="translate(108.64,863.44) rotate(-60)" x="0" y="3.17" text-anchor="middle" font-size="12.2">14</text>
<text transform="translate(122.65,863.44) rotate(-60)" x="0" y="3.17" text-anchor="middle" font-size="12.2">10</text>
<text transform="translate(136.66,863.44) rotate(-60)" x="0" y="3.17" text-anchor="middle" font-size="12.2">20</text>
<text transform="translate(150.68,865.20) rotate(-60)" x="0" y="3.17" text-anchor="middle" font-size="12.2">25r</text>
<text transform="translate(164.69,863.44) rotate(-60)" x="0" y="3.17" text-anchor="middle" font-size="12.2">27</text>
<text transform="translate(178.70,863.44) rotate(-60)" x="0" y="3.17" text-anchor="middle" font-size="12.2">30</text>
<text transform="translate(192.72,863.44) rotate(-60)" x="0" y="3.17" text-anchor="middle" font-size="12.2">36</text>
<text transform="translate(206.73,863.44) rotate(-60)" x="0" y="3.17" text-anchor="middle" font-size="12.2">39</text>
<text transform="translate(220.74,863.44) rotate(-60)" x="0" y="3.17" text-anchor="middle" font-size="12.2">45</text>
<text transform="translate(234.76,863.44) rotate(-60)" x="0" y="3.17" text-anchor="middle" font-size="12.2">48</text>
<text transform="translate(248.77,863.44) rotate(-60)" x="0" y="3.17" text-anchor="middle" font-size="12.2">51</text>
<text transform="translate(262.78,863.44) rotate(-60)" x="0" y="3.17" text-anchor="middle" font-size="12.2">53</text>
<text transform="translate(276.80,863.44) rotate(-60)" x="0" y="3.17" text-anchor="middle" font-size="12.2">57</text>
<text transform="translate(290.81,863.44) rotate(-60)" x="0" y="3.17" text-anchor="middle" font-size="12.2">61</text>
<text transform="translate(304.82,863.44) rotate(-60)" x="0" y="3.17" text-anchor="middle" font-size="12.2">64</text>
<text transform="translate(318.83,863.44) rotate(-60)" x="0" y="3.17" text-anchor="middle" font-size="12.2">67</text>
<text transform="translate(332.85,863.44) rotate(-60)" x="0" y="3.17" text-anchor="middle" font-size="12.2">97</text>
<text transform="translate(346.86,863.44) rotate(-60)" x="0" y="3.17" text-anchor="middle" font-size="12.2">71</text>
<text transform="translate(360.87,863.44) rotate(-60)" x="0" y="3.17" text-anchor="middle" font-size="12.2">77</text>
<text transform="translate(374.89,863.44) rotate(-60)" x="0" y="3.17" text-anchor="middle" font-size="12.2">79</text>
<text transform="translate(388.90,863.44) rotate(-60)" x="0" y="3.17" text-anchor="middle" font-size="12.2">82</text>
<text transform="translate(402.91,863.44) rotate(-60)" x="0" y="3.17" text-anchor="middle" font-size="12.2">88</text>
<text transform="translate(416.93,863.44) rotate(-60)" x="0" y="3.17" text-anchor="middle" font-size="12.2">92</text>
<text transform="translate(430.94,863.44) rotate(-60)" x="0" y="3.17" text-anchor="middle" font-size="12.2">95</text>
<text transform="translate(444.95,863.44) rotate(-60)" x="0" y="3.17" text-anchor="middle" font-size="12.2">99</text>
<text transform="translate(458.96,866.38) rotate(-60)" x="0" y="3.17" text-anchor="middle" font-size="12.2">197</text>
<text transform="translate(472.98,866.38) rotate(-60)" x="0" y="3.17" text-anchor="middle" font-size="12.2">104</text>
<text transform="translate(486.99,866.38) rotate(-60)" x="0" y="3.17" text-anchor="middle" font-size="12.2">300</text>
<text transform="translate(501.00,865.99) rotate(-60)" x="0" y="3.17" text-anchor="middle" font-size="12.2">112</text>
<text transform="translate(515.02,866.38) rotate(-60)" x="0" y="3.17" text-anchor="middle" font-size="12.2">135</text>
<text transform="translate(529.03,866.38) rotate(-60)" x="0" y="3.17" text-anchor="middle" font-size="12.2">160</text>
<text transform="translate(543.04,860.50) rotate(-60)" x="0" y="3.17" text-anchor="middle" font-size="12.2">2</text>
<text transform="translate(557.06,863.44) rotate(-60)" x="0" y="3.17" text-anchor="middle" font-size="12.2">38</text>
<text transform="translate(571.07,863.44) rotate(-60)" x="0" y="3.17" text-anchor="middle" font-size="12.2">59</text>
<text transform="translate(585.08,866.38) rotate(-60)" x="0" y="3.17" text-anchor="middle" font-size="12.2">107</text>
<text transform="translate(599.09,860.50) rotate(-60)" x="0" y="3.17" text-anchor="middle" font-size="12.2">5</text>
<text transform="translate(613.11,863.44) rotate(-60)" x="0" y="3.17" text-anchor="middle" font-size="12.2">15</text>
<text transform="translate(627.12,863.44) rotate(-60)" x="0" y="3.17" text-anchor="middle" font-size="12.2">24</text>
<text transform="translate(641.13,863.44) rotate(-60)" x="0" y="3.17" text-anchor="middle" font-size="12.2">41</text>
<text transform="translate(655.15,863.44) rotate(-60)" x="0" y="3.17" text-anchor="middle" font-size="12.2">84</text>
<text transform="translate(669.16,866.38) rotate(-60)" x="0" y="3.17" text-anchor="middle" font-size="12.2">103</text>
<text x="368.00" y="882.00" text-anchor="middle" font-size="12.4">Buses</text>
<text transform="translate(21.00,756.05) rotate(-90)" text-anchor="middle" font-size="12.4">Voltage (in per unit)</text>
<text x="68.8" y="672.8" font-weight="bold" font-size="12.5">f</text>
<rect x="176.3" y="899.8" width="296.0" height="20.600000000000023" rx="2.5" fill="#fff" stroke="#d0d0d0" stroke-width="1.4"/>
<rect x="187.3" y="904.3" width="12.0" height="12.0" rx="1" fill="#ff0000"/>
<path d="M297.2 904.3L303.2 916.3L291.2 916.3Z" fill="#0000ff"/>
<circle cx="401.0" cy="910.3" r="6.0" fill="#008000"/>
<text x="215.0" y="914.2" font-size="12.4">Phase a</text>
<text x="319.0" y="914.2" font-size="12.4">Phase b</text>
<text x="423.0" y="914.2" font-size="12.4">Phase c</text>
</svg>
</body></html>
